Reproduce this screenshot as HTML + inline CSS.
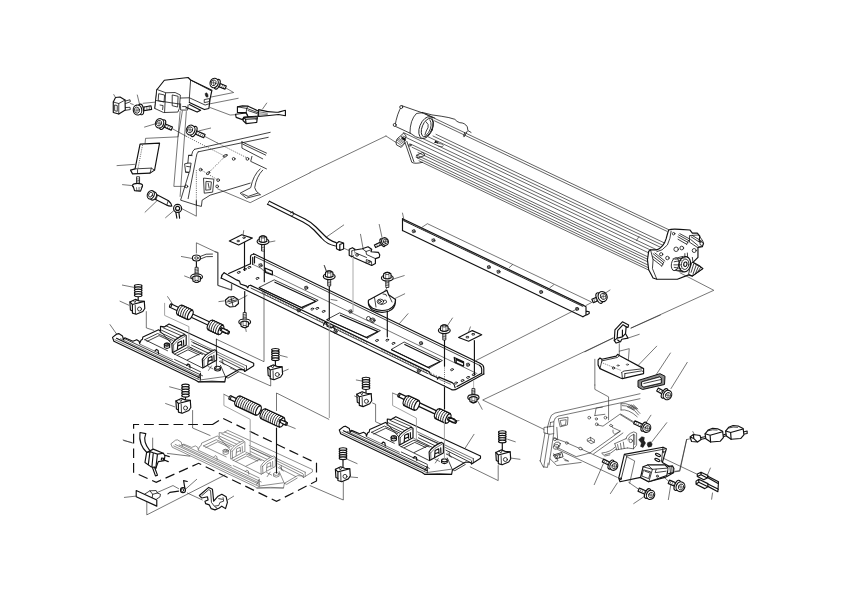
<!DOCTYPE html>
<html><head><meta charset="utf-8"><title>Exploded parts diagram</title>
<style>
html,body{margin:0;padding:0;background:#fff;font-family:"Liberation Sans",sans-serif;}
svg{display:block}
.o{fill:none;stroke:#111;stroke-width:0.8;stroke-linecap:round;stroke-linejoin:round}
.f{fill:#fff;stroke:#111;stroke-width:0.8;stroke-linecap:round;stroke-linejoin:round}
.r{fill:none;stroke:#222;stroke-width:0.7;stroke-linecap:round}
.t{fill:none;stroke:#222;stroke-width:0.62;stroke-linecap:round;stroke-linejoin:round}
.k{fill:none;stroke:#111;stroke-width:1.15;stroke-linecap:round;stroke-linejoin:round}
.kf{fill:#fff;stroke:#111;stroke-width:1.15;stroke-linecap:round;stroke-linejoin:round}
.d{fill:none;stroke:#222;stroke-width:0.7;stroke-dasharray:1 1.2}
.D{fill:none;stroke:#111;stroke-width:1.2;stroke-dasharray:9.7 5}
.lt *{stroke:#4a4a4a !important;stroke-width:0.62 !important}
.b{fill:#222;stroke:#111;stroke-width:0.5}
.g{fill:#999;stroke:#111;stroke-width:0.8}
</style></head><body>
<svg width="842" height="595" viewBox="0 0 842 595">
<rect width="842" height="595" fill="#fff"/>
<!-- p01.py -->
<path class="t" d="M 182.35,111.05 L 178.1,136.83 L 145.56,138.34 L 145.06,143.59"/>
<path class="t" d="M 180.1,111.55 L 173.84,186.4 L 184.61,186.4"/>
<path class="t" d="M 186.36,111.55 L 180.1,196.41"/>
<path class="kf" d="M 113.27,102.04 L 115.52,97.53 L 120.03,97.03 L 125.03,100.04 L 125.28,110.05 L 118.77,114.06 L 113.27,112.55 Z"/>
<path class="o" d="M 113.27,102.04 L 118.77,103.54 L 125.03,100.04 M 118.77,103.54 L 118.77,114.06 M 115.02,105.04 L 117.27,105.54 L 117.27,111.3 L 115.02,110.8 Z"/>
<path class="o" d="M 125.28,101.04 L 130.04,99.79 L 130.29,101.79 L 125.53,103.54 M 125.53,107.55 L 130.04,107.3 L 130.29,109.55 L 125.53,110.3"/>
<path class="t" d="M 113.77,94.53 L 115.52,97.53"/>
<path class="t" d="M 130.54,103.54 L 133.29,104.54 M 143.05,103.29 L 156.32,102.04"/>
<path class="kf" d="M142.3,111.02 L151.64,109.32 L150.99,105.77 L141.66,107.47 Z"/>
<path class="o" style="stroke-width:0.55" d="M144.64,110.59 L144.48,106.96 M146.97,110.17 L146.82,106.53 M149.3,109.74 L149.15,106.11 "/>
<ellipse class="kf" cx="140.99" cy="109.42" rx="2.5" ry="5.41" transform="rotate(-10.3 140.99 109.42)"/>
<ellipse class="kf" cx="137.55" cy="110.05" rx="4.26" ry="5.01" transform="rotate(-10.3 137.55 110.05)"/>
<ellipse class="o" cx="136.96" cy="110.16" rx="2.5" ry="3.1" transform="rotate(-10.3 136.96 110.16)"/>
<path class="t" d="M135.45,110.16 L138.46,110.16 M136.96,108.41 L136.96,111.91"/>
<path class="t" d="M 137.3,95.03 L 139.55,104.29"/>
<path class="kf" d="M 155.07,108.55 L 157.07,89.52 L 164.33,80.26 L 188.11,77.51 L 190.61,80.01 L 211.89,90.28 L 210.14,98.54 L 208.89,108.55 L 204.38,109.55 L 189.36,102.54"/>
<path class="f" d="M 157.07,89.52 L 165.83,92.78 L 175.09,92.53 L 180.35,95.03 L 179.35,108.55 L 177.85,112.05 L 163.58,112.55 L 155.07,108.55 Z"/>
<path class="o" d="M 190.61,80.01 L 189.36,97.78 L 189.36,102.54 M 180.35,98.04 L 189.36,97.78 L 205.13,105.04 L 209.14,103.79"/>
<path class="o" d="M 159.07,93.78 L 164.58,95.03 L 164.08,102.04 L 158.57,100.79 Z M 172.59,95.03 L 178.1,96.28 L 177.6,107.05 L 172.59,105.79 Z M 156.07,100.54 L 179.6,104.04 M 165.58,93.03 L 164.58,112.05 M 160.08,105.04 L 163.08,105.54 L 162.58,109.55"/>
<path class="o" d="M 180.6,103.79 L 180.6,110.05 L 187.61,110.05 L 188.11,105.04 M 182.6,106.55 L 186.11,106.55 L 186.11,108.55"/>
<path class="k" d="M 189.36,104.54 L 200.63,110.3 L 197.12,112.05 L 186.61,107.55"/>
<path class="o" d="M 191.61,80.51 L 211.64,91.03"/>
<ellipse class="b" cx="206.63" cy="95.03" rx="1.25" ry="2.25" transform="rotate(-20 206.63 95.03)"/>
<path class="o" d="M 204.63,99.54 L 209.64,98.54 L 209.39,101.54 L 204.63,102.54 Z"/>
<path class="kf" d="M217.5,86.17 L225.03,89.12 L226.28,85.93 L218.75,82.98 Z"/>
<path class="o" style="stroke-width:0.55" d="M219.39,86.91 L221.1,83.9 M221.27,87.64 L222.98,84.64 M223.15,88.38 L224.86,85.37 "/>
<ellipse class="kf" cx="217.24" cy="84.23" rx="2.38" ry="5.14" transform="rotate(21.37 217.24 84.23)"/>
<ellipse class="kf" cx="214.14" cy="83.02" rx="4.04" ry="4.76" transform="rotate(21.37 214.14 83.02)"/>
<ellipse class="o" cx="213.61" cy="82.81" rx="2.38" ry="2.95" transform="rotate(21.37 213.61 82.81)"/>
<path class="t" d="M212.18,82.81 L215.04,82.81 M213.61,81.14 L213.61,84.47"/>
<path class="t" d="M 225.91,88.02 L 233.67,92.53 L 211.14,97.03"/>
<path class="t" d="M 238.17,98.29 L 210.14,103.79"/>
<path class="t" d="M 210.14,107.55 L 230.16,115.06 L 237.17,114.56"/>
<path class="kf" d="M 258.62,109.68 Q 269.84,112.67 278.57,112.17 L 285.42,110.3 L 285.42,115.79 L 278.57,114.54 Q 269.84,115.54 258.62,116.41 Z"/>
<path class="t" d="M 259.86,111.92 L 267.34,113.17 M 259.86,113.92 L 267.34,114.41"/>
<path class="kf" d="M 237.42,106.81 L 242.41,105.94 L 248.02,106.18 L 258.62,111.17 L 257.99,116.16 L 248.02,116.78 L 246.15,112.67 L 237.42,112.42 Z"/>
<path class="o" d="M 237.42,106.81 L 246.77,108.43 L 248.02,106.18 M 246.77,108.43 L 246.15,112.67 M 246.77,108.43 L 257.99,112.67 M 248.02,110.55 L 257.37,113.67"/>
<path class="kf" d="M 235.55,114.29 L 246.15,113.04 L 248.02,116.78 L 243.65,117.41 L 242.41,119.65 L 236.17,117.41 Z"/>
<path class="kf" d="M 243.65,117.41 L 257.37,116.78 L 256.75,122.39 L 246.15,123.64 L 243.03,120.52 Z M 243.65,117.41 L 245.52,119.28 L 257.37,118.65 M 245.52,119.28 L 246.15,123.64"/>
<path class="t" d="M 266.72,103.07 L 262.61,108.93"/>
<path class="kf" d="M162.83,126.58 L171.17,130.15 L172.51,127 L164.18,123.43 Z"/>
<path class="o" style="stroke-width:0.55" d="M164.92,127.47 L166.73,124.52 M167,128.36 L168.81,125.41 M169.08,129.25 L170.89,126.3 "/>
<ellipse class="kf" cx="162.63" cy="124.63" rx="2.38" ry="5.14" transform="rotate(23.2 162.63 124.63)"/>
<ellipse class="kf" cx="159.57" cy="123.32" rx="4.04" ry="4.76" transform="rotate(23.2 159.57 123.32)"/>
<ellipse class="o" cx="159.05" cy="123.09" rx="2.38" ry="2.95" transform="rotate(23.2 159.05 123.09)"/>
<path class="t" d="M157.62,123.09 L160.48,123.09 M159.05,121.43 L159.05,124.76"/>
<path class="t" d="M 144.56,127.07 L 155.32,123.82"/>
<path class="t" d="M 172.59,128.82 L 186.36,136.33"/>
<path class="d" d="M 186.36,136.33 L 225.16,156.36"/>
<path class="kf" d="M194.02,133.53 L203.66,137.73 L205.1,134.43 L195.46,130.23 Z"/>
<path class="o" style="stroke-width:0.55" d="M195.95,134.37 L197.85,131.27 M197.88,135.21 L199.78,132.11 M199.8,136.05 L201.7,132.95 M201.73,136.89 L203.63,133.79 "/>
<ellipse class="kf" cx="193.83" cy="131.48" rx="2.5" ry="5.41" transform="rotate(23.57 193.83 131.48)"/>
<ellipse class="kf" cx="190.61" cy="130.08" rx="4.26" ry="5.01" transform="rotate(23.57 190.61 130.08)"/>
<ellipse class="o" cx="190.06" cy="129.83" rx="2.5" ry="3.1" transform="rotate(23.57 190.06 129.83)"/>
<path class="t" d="M188.56,129.83 L191.56,129.83 M190.06,128.08 L190.06,131.59"/>
<path class="t" d="M 210.64,128.07 L 199.12,130.83"/>
<path class="t" d="M 204.63,136.33 L 217.65,143.09"/>
<path class="d" d="M 217.65,143.09 L 246.43,157.61"/>
<path class="kf" d="M 140.05,144.09 L 159.57,143.09 L 154.57,170.13 L 150.06,173.13 L 132.54,173.88 L 130.54,170.13 L 135.04,168.87 Z"/>
<path class="o" d="M 135.04,168.87 L 151.31,168.12 L 154.57,170.13 M 151.31,168.12 L 150.06,173.13 M 137.55,169.62 L 137.55,173.13"/>
<path class="d" d="M 142.55,145.09 L 138.05,168.12"/>
<path class="t" d="M 117.02,165.62 L 134.54,164.37"/>
<path class="f" d="M 136.55,177.13 L 136.55,183.89 L 139.55,183.89 L 139.55,177.13 Z"/>
<path class="t" d="M 136.55,178.64 L 139.55,179.14 M 136.55,180.14 L 139.55,180.64 M 136.55,181.64 L 139.55,182.14"/>
<ellipse class="kf" cx="137.55" cy="185.64" rx="5.01" ry="2.25" transform="rotate(0 137.55 185.64)"/>
<path class="kf" d="M 133.29,186.65 L 134.54,190.65 L 140.55,191.15 L 142.05,187.15"/>
<path class="t" d="M 136.55,187.65 L 136.8,190.9 M 139.05,187.65 L 139.05,191.15"/>
<path class="t" d="M 122.53,184.64 L 132.54,185.64"/>
<path class="kf" d="M 154.6,193.6 L 168.5,200.8 Q 171.5,203.5 171.8,206 Q 169.5,206.6 166.5,205 L 152.6,198"/>
<path class="o" d="M 157.5,195.3 L 156,199.5 M 168.2,200.9 L 166.8,205"/>
<ellipse class="kf" cx="153.2" cy="196" rx="3.1" ry="4.3" transform="rotate(27 153.2 196)"/>
<ellipse class="kf" cx="150.8" cy="194.8" rx="3.3" ry="4.4" transform="rotate(27 150.8 194.8)"/>
<ellipse class="o" cx="150.6" cy="194.7" rx="1.8" ry="2.6" transform="rotate(27 150.6 194.7)"/>
<path class="t" d="M 145.06,212.18 L 156.57,201.16"/>
<ellipse class="kf" cx="177.6" cy="208.42" rx="4.01" ry="4.01" transform="rotate(0 177.6 208.42)"/>
<ellipse class="k" cx="177.6" cy="208.42" rx="2" ry="2" transform="rotate(0 177.6 208.42)"/>
<path class="k" d="M 175.84,212.18 L 176.85,218.19 M 178.85,212.18 L 179.6,218.19"/>
<path class="t" d="M 165.58,217.68 L 174.34,210.18"/>
<path class="t" d="M 180.85,208.17 L 196.37,216.18 L 196.37,200.66"/>
<path class="d" d="M 196.37,170.13 L 196.37,200.66"/>
<path class="o" d="M 194.37,149.35 L 270.21,132.33 M 198.12,151.85 L 268.21,137.33"/>
<path class="o" d="M 194.37,149.35 Q 192.37,150.35 191.61,155.11 L 188.61,155.36 L 187.86,163.12 L 184.61,163.87 L 185.61,172.13 L 189.11,172.63 L 180.6,200.16 L 196.37,205.17 L 196.37,200.66"/>
<path class="o" d="M 198.12,151.85 Q 196.62,153.1 196.12,157.61 L 188.11,198.66 M 188.61,155.36 L 192.12,155.61 M 185.61,172.13 L 189.61,172.13 L 191.11,163.12 L 187.86,163.12 M 186.61,166.37 L 190.11,166.87"/>
<path class="o" d="M 241.93,141.84 L 266.46,153.1 M 242.68,144.09 L 265.71,155.11 M 241.93,141.84 L 241.93,148.1 L 262.7,158.86 M 251.94,156.36 L 250.69,161.36 L 266.46,168.87"/>
<path class="o" d="M 260.2,168.87 Q 253.19,175.13 250.69,187.65 L 240.18,193.15 L 246.43,198.16 L 260.2,194.66 M 262.7,170.13 Q 256.45,176.38 254.69,187.65 Q 255.19,191.4 260.2,194.66 M 242.68,193.9 L 248.19,196.41 L 257.7,193.15"/>
<path class="o" d="M 196.37,205.17 L 201.38,206.42 L 202.13,200.16 L 210.14,195.16 L 250.19,183.14"/>
<path class="t" d="M 217.65,188.9 L 250.19,202.67 L 310.26,172.63"/>
<ellipse class="o" cx="200.63" cy="169.62" rx="1.38" ry="1.38" transform="rotate(0 200.63 169.62)"/>
<ellipse class="o" cx="233.67" cy="158.86" rx="1.38" ry="1.38" transform="rotate(0 233.67 158.86)"/>
<ellipse class="o" cx="247.43" cy="158.86" rx="1.38" ry="1.38" transform="rotate(0 247.43 158.86)"/>
<ellipse class="o" cx="218.15" cy="180.14" rx="1.38" ry="1.38" transform="rotate(0 218.15 180.14)"/>
<ellipse class="o" cx="217.15" cy="186.4" rx="1.38" ry="1.38" transform="rotate(0 217.15 186.4)"/>
<ellipse class="o" cx="186.36" cy="186.4" rx="1.38" ry="1.38" transform="rotate(0 186.36 186.4)"/>
<ellipse class="o" cx="225.16" cy="155.86" rx="2.25" ry="1" transform="rotate(-25 225.16 155.86)"/>
<ellipse class="o" cx="208.14" cy="173.13" rx="2" ry="1" transform="rotate(-35 208.14 173.13)"/>
<path class="d" d="M 225.16,156.36 L 208.14,173.13 M 200.63,169.62 L 218.15,180.14"/>
<path class="o" d="M 203.88,178.14 L 213.89,179.14 L 212.64,192.15 L 204.63,193.15 Z M 206.38,181.39 L 211.39,181.89 L 210.64,189.65 L 206.13,190.15 Z M 208.14,183.14 L 209.14,188.15"/>
<!-- p02.py -->
<path class="r" d="M 432,117.12 L 668.5,229.58"/>
<path class="r" d="M 434.5,120.81 L 667,231.36"/>
<path class="r" d="M 436,134.32 L 665.5,243.45"/>
<path class="r" d="M 433,136 L 663.5,245.6"/>
<path class="r" d="M 428,136.72 L 660.5,247.27"/>
<path class="r" d="M 421,137.69 L 657,249.91"/>
<path class="r" d="M 404,132.81 L 651,250.26"/>
<path class="r" d="M 403,136.03 L 650,253.48"/>
<path class="r" d="M 411,144.24 L 649,257.4"/>
<path class="r" d="M 412,147.21 L 648.5,259.67"/>
<path class="r" d="M 418,152.56 L 648,261.93"/>
<path class="r" d="M 417,155.19 L 648,265.03"/>
<path class="r" d="M 416,157.21 L 648,267.53"/>
<path class="r" d="M 419,160.84 L 648.5,269.97"/>
<path class="o" d="M 401.83,105.72 L 422.41,112.83 M 394.98,126.17 L 410.56,133.4"/>
<path class="o" d="M 401.83,105.72 Q 396.85,113.7 394.98,126.17"/>
<ellipse class="f" cx="401.21" cy="107.09" rx="1.5" ry="1.5" transform="rotate(0 401.21 107.09)"/>
<ellipse class="f" cx="394.73" cy="124.93" rx="1.5" ry="1.5" transform="rotate(0 394.73 124.93)"/>
<path class="o" d="M 416.17,113.7 Q 409.94,119.94 409.94,133.03 M 422.41,112.83 Q 416.17,113.08 416.17,113.7"/>
<path class="o" d="M 410.56,133.4 Q 414.93,137.39 421.16,138.64"/>
<ellipse class="f" cx="426.15" cy="127.67" rx="6.48" ry="11.47" transform="rotate(22 426.15 127.67)"/>
<ellipse class="o" cx="427.14" cy="127.67" rx="4.99" ry="9.73" transform="rotate(22 427.14 127.67)"/>
<path class="o" d="M 426.15,121.81 Q 429.26,124.3 428.02,127.67 Q 426.15,130.54 424.9,134.9 M 429.89,119.94 Q 433,124.93 428.64,132.41 L 424.9,136.77"/>
<path class="o" d="M 422.41,112.46 Q 432.38,115.57 441.11,116.2 Q 449.84,117.44 454.83,119.31 Q 456.7,121.81 459.81,122.68 Q 464.8,122.68 467.29,126.8 L 467.92,130.54 L 471.03,132.41 M 467.29,131.16 L 464.18,136.77 M 464.8,132.41 L 463.55,136.15"/>
<path class="o" d="M 422.41,112.83 L 432.38,117.44 M 424.9,113.7 L 434.88,118.07"/>
<path class="k" d="M 435.5,141.13 L 437.37,143 M 434.88,142.38 L 437.99,142.13"/>
<path class="t" d="M 437.37,143 L 442.36,144.25 Q 444.23,145.5 442.36,146.75 L 438.62,146.12"/>
<path class="o" d="M 403.7,133.03 L 397.47,138.64 Q 394.98,141.76 396.47,144.88 L 401.21,147.37 L 404.95,143 M 404.33,140.51 L 411.81,162.33 Q 414.93,164.2 422.41,162.33 M 406.82,141.38 L 413.93,161.71 M 403.7,133.03 L 406.2,136.15 L 404.33,140.51"/>
<path class="t" d="M 396.85,139.89 L 402.46,144.25 M 397.47,138.64 L 403.7,143.38 M 398.72,138.02 L 404.33,142.38 M 396.22,141.76 L 401.83,145.87"/>
<path class="o" d="M 416.8,155.1 L 422.41,152.61 Q 424.9,153.35 424.65,155.47 L 418.04,157.97 Z"/>
<ellipse class="o" cx="409.94" cy="145.12" rx="1.12" ry="1.12" transform="rotate(0 409.94 145.12)"/>
<path class="k" d="M 401.21,136.77 L 404.95,138.64 M 401.83,138.64 L 405.57,140.14"/>
<path class="t" d="M 310,172.5 L 386,136"/>
<path class="t" d="M 386,136 L 396,142.5"/>
<path class="kf" d="M 668.65,229.95 Q 671.15,228.7 679.88,229.33 L 689.85,229.95 L 692.34,233.07 L 697.33,233.07 L 699.83,236.18 L 699.2,241.17 L 703.57,243.04 L 702.32,246.78 L 697.96,247.41 L 697.96,257.38 L 692.97,262.37 L 699.83,266.11 L 702.94,268.6 L 692.34,276.08 L 688.6,274.84 L 677.38,279.2 L 656.81,279.2 L 653.07,277.96 L 648.7,269.85 L 647.46,259.88 L 648.7,251.15 L 650.57,249.9 L 656.81,249.9 Q 663.67,247.41 666.16,238.68 Q 667.41,233.69 668.65,229.95 Z"/>
<path class="o" d="M 671.15,231.2 Q 670.52,238.68 667.41,244.91 Q 662.42,251.15 656.81,251.77 M 650.57,249.9 L 653.07,259.88 L 652.44,268.6 L 656.81,279.2"/>
<path class="o" d="M 653.07,253.64 L 663.67,262.37 M 652.44,256.13 L 663.04,264.24 M 653.07,259.25 L 661.8,266.11 M 663.67,262.37 L 661.8,266.11 M 654.94,253.02 L 664.91,261.12"/>
<ellipse class="o" cx="673.64" cy="233.69" rx="1.25" ry="1.25" transform="rotate(0 673.64 233.69)"/>
<ellipse class="o" cx="661.17" cy="254.26" rx="1.62" ry="1.62" transform="rotate(0 661.17 254.26)"/>
<ellipse class="o" cx="676.13" cy="249.28" rx="2.24" ry="2.24" transform="rotate(0 676.13 249.28)"/>
<ellipse class="o" cx="681.75" cy="248.03" rx="1.87" ry="1.87" transform="rotate(0 681.75 248.03)"/>
<ellipse class="o" cx="694.21" cy="250.52" rx="2" ry="2" transform="rotate(0 694.21 250.52)"/>
<ellipse class="o" cx="667.41" cy="258" rx="1.75" ry="1.75" transform="rotate(0 667.41 258)"/>
<path class="o" d="M 678.63,234.94 L 688.6,240.55 M 678,236.81 L 687.98,242.42 M 678,239.3 L 686.73,244.29 M 688.6,240.55 L 686.73,244.29 M 679.88,233.69 L 689.6,238.93"/>
<path class="o" d="M 689.85,235.56 L 698.58,234.94 L 702.94,241.17 L 702.32,246.16 L 697.33,247.41 L 689.85,242.42 Z M 691.1,236.81 L 699.83,242.42 M 692.34,235.56 L 701.7,241.17 M 690.47,239.3 L 697.96,245.54"/>
<ellipse class="f" cx="701.7" cy="243.67" rx="1.75" ry="1.75" transform="rotate(0 701.7 243.67)"/>
<path class="o" d="M 673.02,258.88 L 682.99,256.38 M 672.39,269.6 L 682.37,272.09"/>
<ellipse class="f" cx="675.14" cy="264.24" rx="3.74" ry="6.48" transform="rotate(10 675.14 264.24)"/>
<ellipse class="kf" cx="684.86" cy="264.24" rx="5.74" ry="7.73" transform="rotate(10 684.86 264.24)"/>
<ellipse class="o" cx="685.11" cy="264.24" rx="3.74" ry="5.24" transform="rotate(10 685.11 264.24)"/>
<ellipse class="k" cx="685.36" cy="264.24" rx="1.62" ry="2.24" transform="rotate(10 685.36 264.24)"/>
<path class="o" d="M 674.89,259.25 L 683.62,258 M 674.26,261.75 L 681.12,260.5 M 673.89,264.86 L 680.5,264.86 M 674.26,267.36 L 681.12,268.6 M 675.51,269.85 L 682.99,271.1"/>
<path class="o" d="M 692.34,262.37 L 699.83,266.73 L 702.94,268.6 L 692.34,276.08 L 688.6,274.21 L 689.85,268.6 Z M 693.59,264.24 L 691.1,272.34 M 696.08,265.49 L 692.97,274.21 M 698.33,266.73 L 695.46,273.59 M 700.45,267.61 L 697.96,271.72"/>
<path class="o" d="M 684.86,253.64 L 684.86,258 M 687.36,253.02 L 687.61,257.38 M 692.34,257.38 L 692.97,262.37"/>
<path class="t" d="M 636.5,240.5 L 639,236.5"/>
<!-- p03.py -->
<path class="k" d="M 402.5,218.7 L 582.9,304.9"/>
<path class="o" d="M 402.5,220.2 L 582.9,306.4"/>
<path class="k" d="M 402.5,230.6 L 582.9,316.7"/>
<path class="k" d="M 402.5,218.7 L 402.5,230.6"/>
<path class="t" style="stroke-width:0.7" d="M404,219.62 L405.2,221.62 M406.1,220.62 L407.3,222.62 M408.2,221.62 L409.4,223.62 M410.3,222.63 L411.5,224.63 M412.4,223.63 L413.6,225.63 M414.5,224.64 L415.7,226.64 M416.6,225.64 L417.8,227.64 M418.7,226.64 L419.9,228.64 M420.8,227.65 L422,229.65 M422.9,228.65 L424.1,230.65 M425,229.66 L426.2,231.66 M427.1,230.66 L428.3,232.66 M429.2,231.66 L430.4,233.66 M431.3,232.67 L432.5,234.67 M433.4,233.67 L434.6,235.67 M435.5,234.67 L436.7,236.67 M437.6,235.68 L438.8,237.68 M439.7,236.68 L440.9,238.68 M441.8,237.69 L443,239.69 M443.9,238.69 L445.1,240.69 M446,239.69 L447.2,241.69 M448.1,240.7 L449.3,242.7 M450.2,241.7 L451.4,243.7 M452.3,242.7 L453.5,244.7 M454.4,243.71 L455.6,245.71 M456.5,244.71 L457.7,246.71 M458.6,245.72 L459.8,247.72 M460.7,246.72 L461.9,248.72 M462.8,247.72 L464,249.72 M464.9,248.73 L466.1,250.73 M467,249.73 L468.2,251.73 M469.1,250.73 L470.3,252.73 M471.2,251.74 L472.4,253.74 M473.3,252.74 L474.5,254.74 M475.4,253.75 L476.6,255.75 M477.5,254.75 L478.7,256.75 M479.6,255.75 L480.8,257.75 M481.7,256.76 L482.9,258.76 M483.8,257.76 L485,259.76 M485.9,258.77 L487.1,260.77 M488,259.77 L489.2,261.77 M490.1,260.77 L491.3,262.77 M492.2,261.78 L493.4,263.78 M494.3,262.78 L495.5,264.78 M496.4,263.78 L497.6,265.78 M498.5,264.79 L499.7,266.79 M500.6,265.79 L501.8,267.79 M502.7,266.8 L503.9,268.8 M504.8,267.8 L506,269.8 M506.9,268.8 L508.1,270.8 M509,269.81 L510.2,271.81 M511.1,270.81 L512.3,272.81 M513.2,271.81 L514.4,273.81 M515.3,272.82 L516.5,274.82 M517.4,273.82 L518.6,275.82 M519.5,274.83 L520.7,276.83 M521.6,275.83 L522.8,277.83 M523.7,276.83 L524.9,278.83 M525.8,277.84 L527,279.84 M527.9,278.84 L529.1,280.84 M530,279.85 L531.2,281.85 M532.1,280.85 L533.3,282.85 M534.2,281.85 L535.4,283.85 M536.3,282.86 L537.5,284.86 M538.4,283.86 L539.6,285.86 M540.5,284.86 L541.7,286.86 M542.6,285.87 L543.8,287.87 M544.7,286.87 L545.9,288.87 M546.8,287.88 L548,289.88 M548.9,288.88 L550.1,290.88 M551,289.88 L552.2,291.88 M553.1,290.89 L554.3,292.89 M555.2,291.89 L556.4,293.89 M557.3,292.89 L558.5,294.89 M559.4,293.9 L560.6,295.9 M561.5,294.9 L562.7,296.9 M563.6,295.91 L564.8,297.91 M565.7,296.91 L566.9,298.91 M567.8,297.91 L569,299.91 M569.9,298.92 L571.1,300.92 M572,299.92 L573.2,301.92 M574.1,300.92 L575.3,302.92 M576.2,301.93 L577.4,303.93 M578.3,302.93 L579.5,304.93 M580.4,303.94 L581.6,305.94 "/>
<path class="t" d="M 421.8,227.4 L 427.4,223.7 L 591,301.8"/>
<path class="t" d="M 512.5,264.7 L 509.3,267.5 M 553.6,284.9 L 549.9,287.7"/>
<path class="k" d="M 582.9,304.9 L 586,306.8 L 586,314.9 L 582.9,316.7 M 586,311.1 L 589.2,311.7 L 589.2,313.6 L 586.7,314.9"/>
<path class="t" d="M 402.5,213.1 L 403.7,218.7"/>
<circle class="o" cx="413.7" cy="231.2" r="1.5"/>
<path class="t" d="M412.2,230.3 L415.2,232.1 M414.45,229.7 L412.95,232.7"/>
<circle class="o" cx="433.4" cy="240.3" r="1.5"/>
<path class="t" d="M431.9,239.4 L434.9,241.2 M434.15,238.8 L432.65,241.8"/>
<circle class="o" cx="488.8" cy="267.1" r="1.5"/>
<path class="t" d="M487.3,266.2 L490.3,268 M489.55,265.6 L488.05,268.6"/>
<circle class="o" cx="498.5" cy="271.7" r="1.5"/>
<path class="t" d="M497,270.8 L500,272.6 M499.25,270.2 L497.75,273.2"/>
<circle class="o" cx="541.1" cy="292" r="1.5"/>
<path class="t" d="M539.6,291.1 L542.6,292.9 M541.85,290.5 L540.35,293.5"/>
<circle class="o" cx="577.1" cy="308.9" r="1.5"/>
<path class="t" d="M575.6,308 L578.6,309.8 M577.85,307.4 L576.35,310.4"/>
<path class="t" d="M 577.1,308.9 L 538.7,328.6"/>
<path class="t" d="M 586,305.5 L 592.3,302.1"/>
<path class="kf" d="M597.56,296.77 L591.85,299.29 L593.35,302.71 L599.07,300.2 Z"/>
<path class="o" style="stroke-width:0.55" d="M595.66,297.61 L596.71,301.24 M593.75,298.45 L594.8,302.08 "/>
<ellipse class="kf" cx="599.27" cy="298.07" rx="2.6" ry="5.62" transform="rotate(156.25 599.27 298.07)"/>
<ellipse class="kf" cx="602.6" cy="296.6" rx="4.42" ry="5.2" transform="rotate(156.25 602.6 296.6)"/>
<ellipse class="o" cx="603.17" cy="296.35" rx="2.6" ry="3.22" transform="rotate(156.25 603.17 296.35)"/>
<path class="t" d="M601.61,296.35 L604.73,296.35 M603.17,294.53 L603.17,298.17"/>
<path class="t" d="M 610,290 L 604,294"/>
<path class="k" d="M 253.5,253.71 L 480.5,363.58"/>
<path class="o" d="M 254.5,256.4 L 479.5,365.3"/>
<path class="t" d="M 262,269.53 L 477,373.59"/>
<path class="k" d="M 250.5,263.7 L 250.5,256.6 Q 250.7,254.3 253,254.2 L 253.5,254.3 M 252.7,257.2 L 252.7,264.3 M 254.5,256.5 L 254.5,263"/>
<path class="k" d="M 480.5,363.6 Q 483.6,365 483.8,368 L 483.8,374 M 479.5,365.3 Q 481.6,366.6 481.7,369 L 481.7,373.2"/>
<path class="k" d="M 250.5,263.7 L 228.7,273.6"/>
<path class="k" d="M 483.8,374 L 457.2,388.7 Q 454.5,390.6 451.5,389.6 M 481.7,373.2 L 457,386.6"/>
<path class="t" d="M 252.7,264.3 L 262,268.8"/>
<path class="k" d="M 224.1,272.8 L 236.6,279.9 L 239.5,281.1 L 240.4,284 L 246.6,286.1 L 247.8,287.8 L 248.7,285.7 L 250.7,285.3"/>
<path class="k" d="M 250.7,285.36 L 426.9,370.64"/>
<path class="k" d="M 224.1,272.8 Q 221.5,274.5 221.2,278.2"/>
<path class="k" d="M 221.2,277.98 L 451.5,389.45"/>
<path class="o" d="M 251,288.1 L 428,373.77"/>
<path class="k" d="M 426.9,370.6 L 429.5,372.1 L 430.3,374.6 L 437,377.6 L 437.9,378.8 M 437.4,379.2 L 439.1,377.1 L 452.1,382.6 Q 454.7,384.2 455.1,387.6"/>
<path class="t" style="stroke-width:0.5" d="M262,291.03 L262.8,293.23 M264.6,292.29 L265.4,294.49 M267.2,293.54 L268,295.74 M269.8,294.8 L270.6,297 M272.4,296.06 L273.2,298.26 M275,297.32 L275.8,299.52 M277.6,298.58 L278.4,300.78 M280.2,299.84 L281,302.04 M282.8,301.1 L283.6,303.3 M285.4,302.35 L286.2,304.55 M288,303.61 L288.8,305.81 M290.6,304.87 L291.4,307.07 M293.2,306.13 L294,308.33 M295.8,307.39 L296.6,309.59 M298.4,308.65 L299.2,310.85 M316.6,317.45 L317.4,319.65 M319.2,318.71 L320,320.91 M321.8,319.97 L322.6,322.17 M324.4,321.23 L325.2,323.43 M327,322.49 L327.8,324.69 M329.6,323.75 L330.4,325.95 M332.2,325 L333,327.2 M334.8,326.26 L335.6,328.46 M337.4,327.52 L338.2,329.72 M340,328.78 L340.8,330.98 M342.6,330.04 L343.4,332.24 M345.2,331.3 L346,333.5 M347.8,332.56 L348.6,334.76 M350.4,333.81 L351.2,336.01 M353,335.07 L353.8,337.27 M355.6,336.33 L356.4,338.53 M358.2,337.59 L359,339.79 M360.8,338.85 L361.6,341.05 M363.4,340.11 L364.2,342.31 M366,341.36 L366.8,343.56 M381.6,348.91 L382.4,351.11 M384.2,350.17 L385,352.37 M386.8,351.43 L387.6,353.63 M389.4,352.69 L390.2,354.89 M392,353.95 L392.8,356.15 M394.6,355.21 L395.4,357.41 M397.2,356.46 L398,358.66 M399.8,357.72 L400.6,359.92 M402.4,358.98 L403.2,361.18 M405,360.24 L405.8,362.44 M407.6,361.5 L408.4,363.7 M410.2,362.76 L411,364.96 M412.8,364.02 L413.6,366.22 M415.4,365.27 L416.2,367.47 M418,366.53 L418.8,368.73 M420.6,367.79 L421.4,369.99 M423.2,369.05 L424,371.25 M425.8,370.31 L426.6,372.51 M428.4,371.57 L429.2,373.77 M431,372.82 L431.8,375.02 M433.6,374.08 L434.4,376.28 M436.2,375.34 L437,377.54 M438.8,376.6 L439.6,378.8 "/>
<path class="k" d="M 323.5,325.3 L 324.5,322.8 Q 325.8,322 326.5,323 L 327.2,326.3 L 331.2,328 L 333.5,326.5 L 334.8,329.6"/>
<path class="t" d="M 440,379.6 L 450.5,384.2"/>
<path class="o" d="M 274.6,280 L 318.2,300.3 L 302.8,308.2 L 259.3,287.7 Z"/>
<path class="k" d="M 274.9,282.2 L 315.9,301.3 L 301.8,307.4"/>
<path class="k" d="M 259.3,287.7 L 302.8,308.2"/>
<path class="o" d="M 340,313 L 380.4,330.6 L 367.5,338 L 327,319.8 Z"/>
<path class="k" d="M 340.3,315.2 L 378.1,331.6 L 366.5,337.2"/>
<path class="k" d="M 327,319.8 L 367.5,338"/>
<path class="o" d="M 404.5,342.2 L 442.4,360.5 L 429.3,368 L 391.5,349.7 Z"/>
<path class="k" d="M 404.8,344.4 L 440.1,361.5 L 428.3,367.2"/>
<path class="k" d="M 391.5,349.7 L 429.3,368"/>
<path class="k" d="M 264.9,268 L 272.4,271.1 L 272.4,274.9 L 265.5,272.4 Z"/>
<path class="k" d="M 454.2,357.4 L 463.6,361.8 L 463.6,366.1 L 454.9,362.4 Z M 456,359.4 L 456.4,363 M 456,359.4 L 463.6,363"/>
<circle class="o" cx="260.5" cy="265.3" r="1.6"/>
<path class="t" d="M258.9,264.34 L262.1,266.26 M261.3,263.7 L259.7,266.9"/>
<circle class="o" cx="306.2" cy="287.8" r="1.6"/>
<path class="t" d="M304.6,286.84 L307.8,288.76 M307,286.2 L305.4,289.4"/>
<circle class="o" cx="350.5" cy="311.5" r="1.6"/>
<path class="t" d="M348.9,310.54 L352.1,312.46 M351.3,309.9 L349.7,313.1"/>
<circle class="o" cx="421" cy="343.2" r="1.6"/>
<path class="t" d="M419.4,342.24 L422.6,344.16 M421.8,341.6 L420.2,344.8"/>
<circle class="o" cx="468" cy="364.7" r="1.6"/>
<path class="t" d="M466.4,363.74 L469.6,365.66 M468.8,363.1 L467.2,366.3"/>
<circle class="o" cx="418.8" cy="370.8" r="1.6"/>
<path class="t" d="M417.2,369.84 L420.4,371.76 M419.6,369.2 L418,372.4"/>
<circle class="o" cx="298.8" cy="310.3" r="1.6"/>
<path class="t" d="M297.2,309.34 L300.4,311.26 M299.6,308.7 L298,311.9"/>
<circle class="o" cx="335.5" cy="331.5" r="1.6"/>
<path class="t" d="M333.9,330.54 L337.1,332.46 M336.3,329.9 L334.7,333.1"/>
<circle class="o" cx="368.5" cy="318.5" r="2"/><circle class="o" cx="372.8" cy="320.3" r="2.3"/><circle class="o" cx="372.8" cy="320.3" r="1.2"/>
<ellipse class="o" cx="249.3" cy="267.4" rx="1.5" ry="0.9" transform="rotate(-20 249.3 267.4)"/>
<ellipse class="o" cx="238.7" cy="272.4" rx="1.5" ry="0.9" transform="rotate(-20 238.7 272.4)"/>
<ellipse class="o" cx="257.4" cy="278.4" rx="1.5" ry="0.9" transform="rotate(-20 257.4 278.4)"/>
<ellipse class="o" cx="244.9" cy="269.3" rx="1.5" ry="0.9" transform="rotate(-20 244.9 269.3)"/>
<ellipse class="o" cx="312.3" cy="309" rx="1.5" ry="0.9" transform="rotate(-20 312.3 309)"/>
<ellipse class="o" cx="317.2" cy="308.4" rx="1.5" ry="0.9" transform="rotate(-20 317.2 308.4)"/>
<ellipse class="o" cx="323.6" cy="311.4" rx="1.5" ry="0.9" transform="rotate(-20 323.6 311.4)"/>
<ellipse class="o" cx="376.9" cy="340.5" rx="1.5" ry="0.9" transform="rotate(-20 376.9 340.5)"/>
<ellipse class="o" cx="387.3" cy="340.1" rx="1.5" ry="0.9" transform="rotate(-20 387.3 340.1)"/>
<ellipse class="o" cx="393.4" cy="343.4" rx="1.5" ry="0.9" transform="rotate(-20 393.4 343.4)"/>
<ellipse class="o" cx="452" cy="369.7" rx="1.5" ry="0.9" transform="rotate(-20 452 369.7)"/>
<ellipse class="o" cx="462.4" cy="380.6" rx="1.5" ry="0.9" transform="rotate(-20 462.4 380.6)"/>
<ellipse class="o" cx="468" cy="377.4" rx="1.5" ry="0.9" transform="rotate(-20 468 377.4)"/>
<ellipse class="o" cx="473.6" cy="374.6" rx="1.5" ry="0.9" transform="rotate(-20 473.6 374.6)"/>
<ellipse class="o" cx="456" cy="383" rx="1.5" ry="0.9" transform="rotate(-20 456 383)"/>
<path class="t" d="M 215,251.8 L 218.1,252.4 L 218.1,285.5 L 231.8,289.8 L 231.8,285"/>
<path class="t" d="M 408,313.7 L 399.5,323.5"/>
<path class="t" d="M 337,300.5 L 331,299.5"/>
<path class="kf" d="M 229.3,241 L 241.8,234.7 L 252.4,238.1 L 238.7,245 Z"/>
<ellipse class="o" cx="238.1" cy="241" rx="1.2" ry="0.8"/><ellipse class="o" cx="243.9" cy="237.7" rx="1.2" ry="0.8"/>
<path class="t" d="M 243.7,230.6 L 243.1,234.7"/>
<path class="k" d="M 244.5,242.5 L 244.5,270.5"/>
<path class="kf" d="M 458.6,337.5 L 472.3,330.6 L 481.7,334.7 L 468.6,341.2 Z"/>
<rect class="o" x="466.6" y="336.4" width="2" height="1.5"/><rect class="o" x="472.4" y="333.5" width="2" height="1.5"/>
<path class="t" d="M 470.4,326.9 L 468.6,331.8"/>
<path class="k" d="M 474.4,340.6 L 474.4,374.9"/>
<path d="M473.6,380 L473.6,388" style="stroke:#aaa;stroke-width:0.9;fill:none"/>
<path class="k" d="M 264.3,250 L 264.3,281.7"/>
<path class="f" d="M261.5,243.5 L261.5,251 L264.5,251 L264.5,243.5 Z"/>
<path class="t" d="M261.5,245.7 L264.5,246.2 M261.5,247.3 L264.5,247.8 M261.5,248.9 L264.5,249.4 "/>
<ellipse class="kf" cx="263" cy="241.5" rx="5.9" ry="3"/>
<path class="kf" d="M259.1,241.2 L259.4,237.2 Q263,234.6 266.6,237.2 L266.9,241.2 Q263,243.7 259.1,241.2 Z"/>
<ellipse class="o" cx="263" cy="236.9" rx="2.3" ry="1.1"/>
<path class="t" d="M261.4,238.1 L261.3,242.4 M264.6,238.1 L264.7,242.4"/>
<path class="t" d="M 274.9,241 L 268.6,242.2"/>
<path class="k" d="M 329.3,285 L 329.3,320"/>
<path class="f" d="M327.7,278.5 L327.7,286 L330.7,286 L330.7,278.5 Z"/>
<path class="t" d="M327.7,280.7 L330.7,281.2 M327.7,282.3 L330.7,282.8 M327.7,283.9 L330.7,284.4 "/>
<ellipse class="kf" cx="329.2" cy="276.5" rx="5.9" ry="3"/>
<path class="kf" d="M325.3,276.2 L325.6,272.2 Q329.2,269.6 332.8,272.2 L333.1,276.2 Q329.2,278.7 325.3,276.2 Z"/>
<ellipse class="o" cx="329.2" cy="271.9" rx="2.3" ry="1.1"/>
<path class="t" d="M327.6,273.1 L327.5,277.4 M330.8,273.1 L330.9,277.4"/>
<path class="t" d="M 324.3,265.5 L 326.3,271"/>
<path d="M329.3,320 L329.3,418" style="stroke:#999;stroke-width:1;fill:none"/>
<path class="k" d="M 444.5,339 L 444.5,366.2"/>
<path class="f" d="M442.8,332.5 L442.8,340 L445.8,340 L445.8,332.5 Z"/>
<path class="t" d="M442.8,334.7 L445.8,335.2 M442.8,336.3 L445.8,336.8 M442.8,337.9 L445.8,338.4 "/>
<ellipse class="kf" cx="444.3" cy="330.5" rx="5.9" ry="3"/>
<path class="kf" d="M440.4,330.2 L440.7,326.2 Q444.3,323.6 447.9,326.2 L448.2,330.2 Q444.3,332.7 440.4,330.2 Z"/>
<ellipse class="o" cx="444.3" cy="325.9" rx="2.3" ry="1.1"/>
<path class="t" d="M442.7,327.1 L442.6,331.4 M445.9,327.1 L446,331.4"/>
<path class="t" d="M 452.5,318 L 447.5,325.5"/>
<path class="d" d="M 444.5,367.5 L 444.5,387.5"/>
<path class="k" d="M 444.5,387.5 L 444.5,394"/>
<path class="f" d="M385.8,280 L385.8,287.5 L388.8,287.5 L388.8,280 Z"/>
<path class="t" d="M385.8,282.2 L388.8,282.7 M385.8,283.8 L388.8,284.3 M385.8,285.4 L388.8,285.9 "/>
<ellipse class="kf" cx="387.3" cy="278" rx="5.9" ry="3"/>
<path class="kf" d="M383.4,277.7 L383.7,273.7 Q387.3,271.1 390.9,273.7 L391.2,277.7 Q387.3,280.2 383.4,277.7 Z"/>
<ellipse class="o" cx="387.3" cy="273.4" rx="2.3" ry="1.1"/>
<path class="t" d="M385.7,274.6 L385.6,278.9 M388.9,274.6 L389,278.9"/>
<path class="t" d="M 404.2,275.6 L 392.9,279.2"/>
<path class="kf" d="M 368.4,301.8 Q 367.8,306.5 372.6,310.1 Q 380.2,313.8 388.6,311.3 Q 395.3,308.8 395.5,301 L 395.5,299.5"/>
<path class="kf" d="M 386.9,290.2 L 368.4,300.3 Q 367.5,304.5 372.6,308.3 Q 380.2,312 388.6,309.5 Q 395.3,307 395.5,299.5 L 388.6,294.7 Z"/>
<path class="o" d="M 374.5,297.5 L 376,307 M 388.6,294.7 L 392,302 M 383,294 L 386,294.5 L 386.5,296"/>
<ellipse class="o" cx="380.4" cy="301.6" rx="3.2" ry="2.5"/><ellipse class="o" cx="379.8" cy="301.4" rx="1.5" ry="1.1"/>
<path class="o" d="M 383.5,300.5 Q 387,299 386.5,302.5 Q 384,304.5 381,304.5"/>
<path class="t" d="M 404.7,293.8 L 395,298.5"/>
<path class="k" d="M 387.3,311 L 387.3,336.8"/>
<path class="t" d="M 384.5,291.5 L 387,287.8"/>
<path class="k" d="M 269.3,201.2 L 305,219 Q 311,222 316,227 L 324,235 Q 329,240.5 336.2,242.6 M 267.5,204.3 L 303,222 Q 309,225 314,230 L 321.5,238 Q 327,244.5 335.5,246"/>
<path class="o" d="M 269.3,201.2 L 267.5,204.3 M 290.5,213 L 292.8,211.5 L 293.8,214.5 L 291.5,216"/>
<path class="kf" d="M 336.5,243.5 L 339,241.5 L 343.6,243 L 343.6,249 L 339.8,250.5 L 336.5,248.7 Z M 339.8,244.5 L 339.8,250.5 M 339.8,244.5 L 343.6,243"/>
<path class="t" d="M 343.7,225 L 326.2,237.2"/>
<path class="t" d="M 344.5,248.5 L 348.5,250.3"/>
<path class="kf" d="M 349.2,249.3 L 352.4,247.7 L 354.9,249.3 L 354.9,255.5 L 351.8,256.8 L 349.2,255.2 Z"/>
<path class="kf" d="M 354.9,250 L 362.3,248.7 L 368,246.8 L 371.7,249.3 L 371,251.8 L 378.5,252.4 L 379.8,254.9 L 379.2,257.4 L 375.4,258.6 L 375.4,263.6 L 371.7,265.5 L 366.1,263 L 353.6,257.4"/>
<path class="o" d="M 351.8,251 L 351.8,256.8 M 351.8,251 L 354.9,249.5 M 362.3,248.7 L 366,251.5 L 370.5,250 M 366,251.5 L 366.5,254.5 L 375.4,258.6 M 366.1,263 L 366.4,259.5 L 371.5,261.5 L 371.7,265.5 M 355.5,252.8 L 366.5,257.5"/>
<circle class="o" cx="357" cy="255" r="1.3"/><circle class="o" cx="369" cy="261.8" r="1.2"/>
<path class="t" d="M 360.5,234.3 L 363,248"/>
<path d="M353,257.5 L353,312" style="stroke:#aaa;stroke-width:1;fill:none"/>
<path class="kf" d="M381.23,241.75 L374.39,245.03 L375.61,247.57 L382.44,244.28 Z"/>
<path class="o" style="stroke-width:0.55" d="M378.95,242.85 L379.71,245.59 M376.67,243.94 L377.44,246.69 "/>
<ellipse class="kf" cx="382.54" cy="242.68" rx="1.95" ry="4.21" transform="rotate(154.36 382.54 242.68)"/>
<ellipse class="kf" cx="385" cy="241.5" rx="3.31" ry="3.9" transform="rotate(154.36 385 241.5)"/>
<ellipse class="o" cx="385.42" cy="241.3" rx="1.95" ry="2.42" transform="rotate(154.36 385.42 241.3)"/>
<path class="t" d="M384.25,241.3 L386.59,241.3 M385.42,239.93 L385.42,242.66"/>
<path class="t" d="M 379.2,224.4 L 382.3,238.7"/>
<path class="t" d="M 324.3,265.5 L 326.3,271"/>
<!-- p04.py -->
<path class="kf" d="M 112.5,337.4 L 116.8,334 L 118.7,333.6 L 122.5,335.9 L 123.4,339.7 L 124.8,337.8 L 132.9,341.2 L 136.7,339.7 L 139.1,341.2 L 139.6,343.5 L 141,340.2 L 142.4,339.3 L 142.9,336.9 L 158.6,329.8 L 160.5,331.2 L 160.5,326.4 L 164.3,326.9 L 169,324.1 L 253.7,363.3 L 253.7,365.7 L 244.7,371.4 L 243.8,369.9 L 239,369.4 L 237.1,370.4 L 225.7,377.1 L 224.8,381.8 L 198.2,381.8 L 195.3,379.9 L 113.9,341.2 Z"/>
<path class="t" d="M 115,339.72 L 200.5,380.38"/>
<path class="k" d="M 116.5,338.24 L 200.5,378.18"/>
<path class="t" d="M 120.5,338.74 L 200.5,376.78"/>
<path class="o" d="M 123.5,338.16 L 202.5,375.73"/>
<path class="t" d="M 139.5,343.97 L 172.5,359.66"/>
<path class="o" d="M 174.5,359.42 L 200.5,371.78"/>
<path class="o" d="M 200.5,373.3 L 200.5,379.9 M 200.5,373.3 L 198,378.4 M 198.2,381.8 Q 212.5,380.4 224.8,381.8"/>
<path class="o" d="M 173.3,353.5 L 202.5,368"/>
<path class="k" d="M 155,350.9 L 156.5,349.4 L 158.1,350.4 L 158.5,353.4 M 186.5,365.4 L 188,363.9 L 189.7,364.9 L 190.1,367.9"/>
<path class="o" d="M 144.8,339.7 L 157.6,333.5 L 172.8,340.4 M 147,341.4 L 159,335.6 L 171,341.2 M 144.8,339.7 L 167.5,350.7"/>
<path class="t" d="M 190.5,339.2 L 246.5,366 M 191.5,341.6 L 244,367.4"/>
<path class="o" d="M 163,327.7 L 181.6,335.8 M 161.5,330.2 L 179.6,338.8 M 159.9,332.3 L 175.6,339.8 M 166,325.8 L 184.5,334 M 160.5,331.2 L 171.9,344.2"/>
<path class="kf" d="M 171.9,344.2 Q 174.9,338.7 184.3,334.6 L 186.2,335.6 L 186.2,345.1 L 181.9,347.4 L 172.4,352.7 Z"/>
<path class="t" d="M 173.3,345.2 Q 176.4,340.2 184.9,336.3"/>
<path class="k" d="M 177.4,349.2 L 177.9,342.7 L 181.5,341 L 181.8,345.7 M 183.5,340 L 183.7,345.2 M 177.9,346 L 181.7,344.4"/>
<path class="t" d="M 173.5,344.8 L 173.8,351.9"/>
<ellipse class="f" cx="167" cy="344.6" rx="2.6" ry="1.5" transform="rotate(0 167 344.6)"/>
<path class="kf" d="M 164.4,344.6 L 164.4,347.4 Q 167,349.4 169.6,347.4 L 169.6,344.6"/>
<ellipse class="kf" cx="167" cy="344.6" rx="2.6" ry="1.5" transform="rotate(0 167 344.6)"/>
<ellipse class="o" cx="167" cy="344.6" rx="1.2" ry="0.7" transform="rotate(0 167 344.6)"/>
<path class="o" d="M 174.5,354.1 L 187.1,347.6 L 202.5,354.4 M 177.3,355.2 L 188,349.8 L 199,354.9 M 187.4,359.9 L 201,353.2"/>
<path class="t" d="M 187.1,345.9 L 192.5,348.4"/>
<path class="o" d="M 193.1,342.7 L 211.7,350.8 M 191.6,345.2 L 209.7,353.8 M 190,347.3 L 205.7,354.8"/>
<path class="kf" d="M 202.3,359.4 Q 205.3,353.9 214.7,349.8 L 216.6,350.8 L 216.6,360.3 L 212.3,362.6 L 202.8,367.9 Z"/>
<path class="t" d="M 203.7,360.4 Q 206.8,355.4 215.3,351.5"/>
<path class="k" d="M 207.8,364.4 L 208.3,357.9 L 211.9,356.2 L 212.2,360.9 M 213.9,355.2 L 214.1,360.4 M 208.3,361.2 L 212.1,359.6"/>
<path class="t" d="M 203.9,360 L 204.2,367.1"/>
<path class="kf" d="M 214.8,367.7 L 214.8,370 Q 217.6,372 220.4,370 L 220.4,367.7"/>
<ellipse class="kf" cx="217.6" cy="367.7" rx="2.8" ry="1.5" transform="rotate(0 217.6 367.7)"/>
<path class="t" d="M 208,366.4 L 213,368.9 M 208.5,370.4 L 211.5,365.9 M 221,360.4 L 224.5,364.9 M 222.5,359.4 L 223,363.9"/>
<path class="o" d="M 219.1,357.6 L 243.8,369.9 M 219.5,361.4 L 237.1,370.4 M 225.7,377.1 L 228,378.1 L 238.5,371.9 M 220.5,365.4 L 225.5,376.9 M 244.7,371.4 L 244.7,368.4 M 246.5,366 L 246.5,370.2"/>
<path class="t" d="M 200.5,379.9 L 224.5,376.6"/>
<path class="kf" d="M 339.3,430 L 343.6,426.6 L 345.5,426.2 L 349.3,428.5 L 350.2,432.3 L 351.6,430.4 L 359.7,433.8 L 363.5,432.3 L 365.9,433.8 L 366.4,436.1 L 367.8,432.8 L 369.2,431.9 L 369.7,429.5 L 385.4,422.4 L 387.3,423.8 L 387.3,419 L 391.1,419.5 L 395.8,416.7 L 480.5,455.9 L 480.5,458.3 L 471.5,464 L 470.6,462.5 L 465.8,462 L 463.9,463 L 452.5,469.7 L 451.6,474.4 L 425,474.4 L 422.1,472.5 L 340.7,433.8 Z"/>
<path class="t" d="M 341.8,432.32 L 427.3,472.98"/>
<path class="k" d="M 343.3,430.84 L 427.3,470.78"/>
<path class="t" d="M 347.3,431.34 L 427.3,469.38"/>
<path class="o" d="M 350.3,430.76 L 429.3,468.33"/>
<path class="t" d="M 366.3,436.57 L 399.3,452.26"/>
<path class="o" d="M 401.3,452.02 L 427.3,464.38"/>
<path class="o" d="M 427.3,465.9 L 427.3,472.5 M 427.3,465.9 L 424.8,471 M 425,474.4 Q 439.3,473 451.6,474.4"/>
<path class="o" d="M 400.1,446.1 L 429.3,460.6"/>
<path class="k" d="M 381.8,443.5 L 383.3,442 L 384.9,443 L 385.3,446 M 413.3,458 L 414.8,456.5 L 416.5,457.5 L 416.9,460.5"/>
<path class="o" d="M 371.6,432.3 L 384.4,426.1 L 399.6,433 M 373.8,434 L 385.8,428.2 L 397.8,433.8 M 371.6,432.3 L 394.3,443.3"/>
<path class="t" d="M 417.3,431.8 L 473.3,458.6 M 418.3,434.2 L 470.8,460"/>
<path class="o" d="M 389.8,420.3 L 408.4,428.4 M 388.3,422.8 L 406.4,431.4 M 386.7,424.9 L 402.4,432.4 M 392.8,418.4 L 411.3,426.6 M 387.3,423.8 L 398.7,436.8"/>
<path class="kf" d="M 398.7,436.8 Q 401.7,431.3 411.1,427.2 L 413,428.2 L 413,437.7 L 408.7,440 L 399.2,445.3 Z"/>
<path class="t" d="M 400.1,437.8 Q 403.2,432.8 411.7,428.9"/>
<path class="k" d="M 404.2,441.8 L 404.7,435.3 L 408.3,433.6 L 408.6,438.3 M 410.3,432.6 L 410.5,437.8 M 404.7,438.6 L 408.5,437"/>
<path class="t" d="M 400.3,437.4 L 400.6,444.5"/>
<ellipse class="f" cx="393.8" cy="437.2" rx="2.6" ry="1.5" transform="rotate(0 393.8 437.2)"/>
<path class="kf" d="M 391.2,437.2 L 391.2,440 Q 393.8,442 396.4,440 L 396.4,437.2"/>
<ellipse class="kf" cx="393.8" cy="437.2" rx="2.6" ry="1.5" transform="rotate(0 393.8 437.2)"/>
<ellipse class="o" cx="393.8" cy="437.2" rx="1.2" ry="0.7" transform="rotate(0 393.8 437.2)"/>
<path class="o" d="M 401.3,446.7 L 413.9,440.2 L 429.3,447 M 404.1,447.8 L 414.8,442.4 L 425.8,447.5 M 414.2,452.5 L 427.8,445.8"/>
<path class="t" d="M 413.9,438.5 L 419.3,441"/>
<path class="o" d="M 419.9,435.3 L 438.5,443.4 M 418.4,437.8 L 436.5,446.4 M 416.8,439.9 L 432.5,447.4"/>
<path class="kf" d="M 429.1,452 Q 432.1,446.5 441.5,442.4 L 443.4,443.4 L 443.4,452.9 L 439.1,455.2 L 429.6,460.5 Z"/>
<path class="t" d="M 430.5,453 Q 433.6,448 442.1,444.1"/>
<path class="k" d="M 434.6,457 L 435.1,450.5 L 438.7,448.8 L 439,453.5 M 440.7,447.8 L 440.9,453 M 435.1,453.8 L 438.9,452.2"/>
<path class="t" d="M 430.7,452.6 L 431,459.7"/>
<path class="kf" d="M 441.6,460.3 L 441.6,462.6 Q 444.4,464.6 447.2,462.6 L 447.2,460.3"/>
<ellipse class="kf" cx="444.4" cy="460.3" rx="2.8" ry="1.5" transform="rotate(0 444.4 460.3)"/>
<path class="t" d="M 434.8,459 L 439.8,461.5 M 435.3,463 L 438.3,458.5 M 447.8,453 L 451.3,457.5 M 449.3,452 L 449.8,456.5"/>
<path class="o" d="M 445.9,450.2 L 470.6,462.5 M 446.3,454 L 463.9,463 M 452.5,469.7 L 454.8,470.7 L 465.3,464.5 M 447.3,458 L 452.3,469.5 M 471.5,464 L 471.5,461 M 473.3,458.6 L 473.3,462.8"/>
<path class="t" d="M 427.3,472.5 L 451.3,469.2"/>
<g class="lt">
<path class="kf" d="M 171.2,443.6 L 175.5,440.2 L 177.4,439.8 L 181.2,442.1 L 182.1,445.9 L 183.5,444 L 191.6,447.4 L 195.4,445.9 L 197.8,447.4 L 198.3,449.7 L 199.7,446.4 L 201.1,445.5 L 201.6,443.1 L 217.3,436 L 219.2,437.4 L 219.2,432.6 L 223,433.1 L 227.7,430.3 L 312.4,469.5 L 312.4,471.9 L 303.4,477.6 L 302.5,476.1 L 297.7,475.6 L 295.8,476.6 L 284.4,483.3 L 283.5,488 L 256.9,488 L 254,486.1 L 172.6,447.4 Z"/>
<path class="t" d="M 173.7,445.92 L 259.2,486.58"/>
<path class="k" d="M 175.2,444.44 L 259.2,484.38"/>
<path class="t" d="M 179.2,444.94 L 259.2,482.98"/>
<path class="o" d="M 182.2,444.36 L 261.2,481.93"/>
<path class="t" d="M 198.2,450.17 L 231.2,465.86"/>
<path class="o" d="M 233.2,465.62 L 259.2,477.98"/>
<path class="o" d="M 259.2,479.5 L 259.2,486.1 M 259.2,479.5 L 256.7,484.6 M 256.9,488 Q 271.2,486.6 283.5,488"/>
<path class="o" d="M 232,459.7 L 261.2,474.2"/>
<path class="k" d="M 213.7,457.1 L 215.2,455.6 L 216.8,456.6 L 217.2,459.6 M 245.2,471.6 L 246.7,470.1 L 248.4,471.1 L 248.8,474.1"/>
<path class="o" d="M 203.5,445.9 L 216.3,439.7 L 231.5,446.6 M 205.7,447.6 L 217.7,441.8 L 229.7,447.4 M 203.5,445.9 L 226.2,456.9"/>
<path class="t" d="M 249.2,445.4 L 305.2,472.2 M 250.2,447.8 L 302.7,473.6"/>
<path class="o" d="M 221.7,433.9 L 240.3,442 M 220.2,436.4 L 238.3,445 M 218.6,438.5 L 234.3,446 M 224.7,432 L 243.2,440.2 M 219.2,437.4 L 230.6,450.4"/>
<path class="kf" d="M 230.6,450.4 Q 233.6,444.9 243,440.8 L 244.9,441.8 L 244.9,451.3 L 240.6,453.6 L 231.1,458.9 Z"/>
<path class="t" d="M 232,451.4 Q 235.1,446.4 243.6,442.5"/>
<path class="k" d="M 236.1,455.4 L 236.6,448.9 L 240.2,447.2 L 240.5,451.9 M 242.2,446.2 L 242.4,451.4 M 236.6,452.2 L 240.4,450.6"/>
<path class="t" d="M 232.2,451 L 232.5,458.1"/>
<ellipse class="f" cx="225.7" cy="450.8" rx="2.6" ry="1.5" transform="rotate(0 225.7 450.8)"/>
<path class="kf" d="M 223.1,450.8 L 223.1,453.6 Q 225.7,455.6 228.3,453.6 L 228.3,450.8"/>
<ellipse class="kf" cx="225.7" cy="450.8" rx="2.6" ry="1.5" transform="rotate(0 225.7 450.8)"/>
<ellipse class="o" cx="225.7" cy="450.8" rx="1.2" ry="0.7" transform="rotate(0 225.7 450.8)"/>
<path class="o" d="M 233.2,460.3 L 245.8,453.8 L 261.2,460.6 M 236,461.4 L 246.7,456 L 257.7,461.1 M 246.1,466.1 L 259.7,459.4"/>
<path class="t" d="M 245.8,452.1 L 251.2,454.6"/>
<path class="o" d="M 251.8,448.9 L 270.4,457 M 250.3,451.4 L 268.4,460 M 248.7,453.5 L 264.4,461"/>
<path class="kf" d="M 261,465.6 Q 264,460.1 273.4,456 L 275.3,457 L 275.3,466.5 L 271,468.8 L 261.5,474.1 Z"/>
<path class="t" d="M 262.4,466.6 Q 265.5,461.6 274,457.7"/>
<path class="k" d="M 266.5,470.6 L 267,464.1 L 270.6,462.4 L 270.9,467.1 M 272.6,461.4 L 272.8,466.6 M 267,467.4 L 270.8,465.8"/>
<path class="t" d="M 262.6,466.2 L 262.9,473.3"/>
<path class="kf" d="M 273.5,473.9 L 273.5,476.2 Q 276.3,478.2 279.1,476.2 L 279.1,473.9"/>
<ellipse class="kf" cx="276.3" cy="473.9" rx="2.8" ry="1.5" transform="rotate(0 276.3 473.9)"/>
<path class="t" d="M 266.7,472.6 L 271.7,475.1 M 267.2,476.6 L 270.2,472.1 M 279.7,466.6 L 283.2,471.1 M 281.2,465.6 L 281.7,470.1"/>
<path class="o" d="M 277.8,463.8 L 302.5,476.1 M 278.2,467.6 L 295.8,476.6 M 284.4,483.3 L 286.7,484.3 L 297.2,478.1 M 279.2,471.6 L 284.2,483.1 M 303.4,477.6 L 303.4,474.6 M 305.2,472.2 L 305.2,476.4"/>
<path class="t" d="M 259.2,486.1 L 283.2,482.8"/>
</g>
<!-- p05.py -->
<path class="kf" d="M169.84,307.23 L225.94,333.43 L227.46,330.17 L171.36,303.97 Z"/>
<ellipse class="kf" cx="226.7" cy="331.8" rx="0.9" ry="1.8" transform="rotate(25.03 226.7 331.8)"/>
<ellipse class="kf" cx="170.6" cy="305.6" rx="0.9" ry="1.8" transform="rotate(25.03 170.6 305.6)"/>
<path class="f" style="stroke:none" d="M177.05,315.03 L187.92,320.1 L192.75,309.77 L181.88,304.7 Z"/>
<ellipse class="kf" cx="179.46" cy="309.86" rx="2.06" ry="4.9" transform="rotate(25.03 179.46 309.86)"/>
<ellipse class="f" cx="181.64" cy="310.88" rx="2.39" ry="5.7" transform="rotate(25.03 181.64 310.88)"/>
<ellipse class="f" cx="183.81" cy="311.89" rx="2.39" ry="5.7" transform="rotate(25.03 183.81 311.89)"/>
<ellipse class="f" cx="185.99" cy="312.91" rx="2.39" ry="5.7" transform="rotate(25.03 185.99 312.91)"/>
<ellipse class="f" cx="188.16" cy="313.92" rx="2.39" ry="5.7" transform="rotate(25.03 188.16 313.92)"/>
<ellipse class="kf" cx="190.34" cy="314.94" rx="2.06" ry="4.9" transform="rotate(25.03 190.34 314.94)"/>
<path class="k" d="M177.17,314.77 L188.05,319.85 M181.75,304.95 L192.63,310.03"/>
<path class="f" style="stroke:none" d="M207.65,330.03 L218.52,335.1 L223.35,324.77 L212.48,319.7 Z"/>
<ellipse class="kf" cx="210.06" cy="324.86" rx="2.06" ry="4.9" transform="rotate(25.03 210.06 324.86)"/>
<ellipse class="f" cx="212.24" cy="325.88" rx="2.39" ry="5.7" transform="rotate(25.03 212.24 325.88)"/>
<ellipse class="f" cx="214.41" cy="326.89" rx="2.39" ry="5.7" transform="rotate(25.03 214.41 326.89)"/>
<ellipse class="f" cx="216.59" cy="327.91" rx="2.39" ry="5.7" transform="rotate(25.03 216.59 327.91)"/>
<ellipse class="f" cx="218.76" cy="328.92" rx="2.39" ry="5.7" transform="rotate(25.03 218.76 328.92)"/>
<ellipse class="kf" cx="220.94" cy="329.94" rx="2.06" ry="4.9" transform="rotate(25.03 220.94 329.94)"/>
<path class="k" d="M207.77,329.77 L218.65,334.85 M212.35,319.95 L223.23,325.03"/>
<path class="kf" d="M220.4,330.37 L228,333.97 L229.2,331.43 L221.6,327.83 Z"/>
<ellipse class="kf" cx="228.6" cy="332.7" rx="0.7" ry="1.4" transform="rotate(25.35 228.6 332.7)"/>
<ellipse class="kf" cx="221" cy="329.1" rx="0.7" ry="1.4" transform="rotate(25.35 221 329.1)"/>
<path class="kf" d="M398.13,396.63 L453.13,422.63 L454.67,419.37 L399.67,393.37 Z"/>
<ellipse class="kf" cx="453.9" cy="421" rx="0.9" ry="1.8" transform="rotate(25.3 453.9 421)"/>
<ellipse class="kf" cx="398.9" cy="395" rx="0.9" ry="1.8" transform="rotate(25.3 398.9 395)"/>
<path class="f" style="stroke:none" d="M403.55,405.63 L414.42,410.7 L419.25,400.37 L408.38,395.3 Z"/>
<ellipse class="kf" cx="405.96" cy="400.46" rx="2.06" ry="4.9" transform="rotate(25.03 405.96 400.46)"/>
<ellipse class="f" cx="408.14" cy="401.48" rx="2.39" ry="5.7" transform="rotate(25.03 408.14 401.48)"/>
<ellipse class="f" cx="410.31" cy="402.49" rx="2.39" ry="5.7" transform="rotate(25.03 410.31 402.49)"/>
<ellipse class="f" cx="412.49" cy="403.51" rx="2.39" ry="5.7" transform="rotate(25.03 412.49 403.51)"/>
<ellipse class="f" cx="414.66" cy="404.52" rx="2.39" ry="5.7" transform="rotate(25.03 414.66 404.52)"/>
<ellipse class="kf" cx="416.84" cy="405.54" rx="2.06" ry="4.9" transform="rotate(25.03 416.84 405.54)"/>
<path class="k" d="M403.67,405.37 L414.55,410.45 M408.25,395.55 L419.13,400.63"/>
<path class="f" style="stroke:none" d="M434.85,418.63 L445.72,423.7 L450.55,413.37 L439.68,408.3 Z"/>
<ellipse class="kf" cx="437.26" cy="413.46" rx="2.06" ry="4.9" transform="rotate(25.03 437.26 413.46)"/>
<ellipse class="f" cx="439.44" cy="414.48" rx="2.39" ry="5.7" transform="rotate(25.03 439.44 414.48)"/>
<ellipse class="f" cx="441.61" cy="415.49" rx="2.39" ry="5.7" transform="rotate(25.03 441.61 415.49)"/>
<ellipse class="f" cx="443.79" cy="416.51" rx="2.39" ry="5.7" transform="rotate(25.03 443.79 416.51)"/>
<ellipse class="f" cx="445.96" cy="417.52" rx="2.39" ry="5.7" transform="rotate(25.03 445.96 417.52)"/>
<ellipse class="kf" cx="448.14" cy="418.54" rx="2.06" ry="4.9" transform="rotate(25.03 448.14 418.54)"/>
<path class="k" d="M434.97,418.37 L445.85,423.45 M439.55,408.55 L450.43,413.63"/>
<path class="kf" d="M447.91,419.87 L455.21,423.27 L456.39,420.73 L449.09,417.33 Z"/>
<ellipse class="kf" cx="455.8" cy="422" rx="0.7" ry="1.4" transform="rotate(24.97 455.8 422)"/>
<ellipse class="kf" cx="448.5" cy="418.6" rx="0.7" ry="1.4" transform="rotate(24.97 448.5 418.6)"/>
<path class="kf" d="M229.24,399.13 L284.04,424.63 L285.56,421.37 L230.76,395.87 Z"/>
<ellipse class="kf" cx="284.8" cy="423" rx="0.9" ry="1.8" transform="rotate(24.95 284.8 423)"/>
<ellipse class="kf" cx="230" cy="397.5" rx="0.9" ry="1.8" transform="rotate(24.95 230 397.5)"/>
<path class="f" style="stroke:none" d="M235.17,405.9 L256.01,415.63 L260.83,405.3 L239.99,395.57 Z"/>
<ellipse class="kf" cx="237.58" cy="400.73" rx="2.06" ry="4.9" transform="rotate(25.03 237.58 400.73)"/>
<ellipse class="f" cx="239.66" cy="401.71" rx="2.39" ry="5.7" transform="rotate(25.03 239.66 401.71)"/>
<ellipse class="f" cx="241.75" cy="402.68" rx="2.39" ry="5.7" transform="rotate(25.03 241.75 402.68)"/>
<ellipse class="f" cx="243.83" cy="403.65" rx="2.39" ry="5.7" transform="rotate(25.03 243.83 403.65)"/>
<ellipse class="f" cx="245.92" cy="404.63" rx="2.39" ry="5.7" transform="rotate(25.03 245.92 404.63)"/>
<ellipse class="f" cx="248" cy="405.6" rx="2.39" ry="5.7" transform="rotate(25.03 248 405.6)"/>
<ellipse class="f" cx="250.08" cy="406.57" rx="2.39" ry="5.7" transform="rotate(25.03 250.08 406.57)"/>
<ellipse class="f" cx="252.17" cy="407.55" rx="2.39" ry="5.7" transform="rotate(25.03 252.17 407.55)"/>
<ellipse class="f" cx="254.25" cy="408.52" rx="2.39" ry="5.7" transform="rotate(25.03 254.25 408.52)"/>
<ellipse class="f" cx="256.34" cy="409.49" rx="2.39" ry="5.7" transform="rotate(25.03 256.34 409.49)"/>
<ellipse class="kf" cx="258.42" cy="410.47" rx="2.06" ry="4.9" transform="rotate(25.03 258.42 410.47)"/>
<path class="k" d="M235.29,405.64 L256.13,415.37 M239.87,395.83 L260.71,405.56"/>
<path class="f" style="stroke:none" d="M260.47,418.72 L279.5,427.61 L284.33,417.28 L265.3,408.39 Z"/>
<ellipse class="kf" cx="262.89" cy="413.56" rx="2.06" ry="4.9" transform="rotate(25.03 262.89 413.56)"/>
<ellipse class="f" cx="265" cy="414.54" rx="2.39" ry="5.7" transform="rotate(25.03 265 414.54)"/>
<ellipse class="f" cx="267.11" cy="415.53" rx="2.39" ry="5.7" transform="rotate(25.03 267.11 415.53)"/>
<ellipse class="f" cx="269.23" cy="416.52" rx="2.39" ry="5.7" transform="rotate(25.03 269.23 416.52)"/>
<ellipse class="f" cx="271.34" cy="417.51" rx="2.39" ry="5.7" transform="rotate(25.03 271.34 417.51)"/>
<ellipse class="f" cx="273.46" cy="418.49" rx="2.39" ry="5.7" transform="rotate(25.03 273.46 418.49)"/>
<ellipse class="f" cx="275.57" cy="419.48" rx="2.39" ry="5.7" transform="rotate(25.03 275.57 419.48)"/>
<ellipse class="f" cx="277.69" cy="420.47" rx="2.39" ry="5.7" transform="rotate(25.03 277.69 420.47)"/>
<ellipse class="f" cx="279.8" cy="421.46" rx="2.39" ry="5.7" transform="rotate(25.03 279.8 421.46)"/>
<ellipse class="kf" cx="281.91" cy="422.44" rx="2.06" ry="4.9" transform="rotate(25.03 281.91 422.44)"/>
<path class="k" d="M260.6,418.46 L279.62,427.35 M265.18,408.65 L284.2,417.54"/>
<path class="kf" d="M279.4,422.06 L285.9,425.16 L287.1,422.64 L280.6,419.54 Z"/>
<ellipse class="kf" cx="286.5" cy="423.9" rx="0.7" ry="1.4" transform="rotate(25.5 286.5 423.9)"/>
<ellipse class="kf" cx="280" cy="420.8" rx="0.7" ry="1.4" transform="rotate(25.5 280 420.8)"/>
<path class="k" d="M 138.2,296.5 L 138.2,302"/>
<path class="kf" d="M129.9,301.9 L135.2,299.4 L139.3,300.9 L144.3,301.4 L144.8,308.5 L142.8,311.5 L136.2,314.3 L132.4,313.1 L132.4,311 L130.4,310 Z"/>
<path class="k" d="M129.9,301.9 L132.4,304.5 L144.3,301.4 M132.4,304.5 L132.4,311"/>
<path class="o" d="M135.2,305.2 L135.5,313.8 M133.3,300.4 L134.9,302.6 L136.3,300.2"/>
<circle class="o" cx="139.5" cy="309" r="2"/>
<ellipse class="f" style="stroke-width:1.15" cx="138.2" cy="285.88" rx="3.8" ry="1.42"/>
<ellipse class="f" style="stroke-width:1.15" cx="138.2" cy="288.24" rx="3.8" ry="1.42"/>
<ellipse class="f" style="stroke-width:1.15" cx="138.2" cy="290.6" rx="3.8" ry="1.42"/>
<ellipse class="f" style="stroke-width:1.15" cx="138.2" cy="292.96" rx="3.8" ry="1.42"/>
<ellipse class="f" style="stroke-width:1.15" cx="138.2" cy="295.32" rx="3.8" ry="1.42"/>
<path class="k" d="M 275.4,360.4 L 275.4,367.5"/>
<path class="kf" d="M267.7,367.4 L273,364.9 L277.1,366.4 L282.1,366.9 L282.6,374 L280.6,377 L274,379.8 L270.2,378.6 L270.2,376.5 L268.2,375.5 Z"/>
<path class="k" d="M267.7,367.4 L270.2,370 L282.1,366.9 M270.2,370 L270.2,376.5"/>
<path class="o" d="M273,370.7 L273.3,379.3 M271.1,365.9 L272.7,368.1 L274.1,365.7"/>
<circle class="o" cx="277.3" cy="374.5" r="2"/>
<ellipse class="f" style="stroke-width:1.15" cx="275.4" cy="349.87" rx="3.8" ry="1.4"/>
<ellipse class="f" style="stroke-width:1.15" cx="275.4" cy="352.21" rx="3.8" ry="1.4"/>
<ellipse class="f" style="stroke-width:1.15" cx="275.4" cy="354.55" rx="3.8" ry="1.4"/>
<ellipse class="f" style="stroke-width:1.15" cx="275.4" cy="356.89" rx="3.8" ry="1.4"/>
<ellipse class="f" style="stroke-width:1.15" cx="275.4" cy="359.23" rx="3.8" ry="1.4"/>
<path class="k" d="M 185.5,396.8 L 185.5,401"/>
<path class="kf" d="M175.9,400.9 L181.2,398.4 L185.3,399.9 L190.3,400.4 L190.8,407.5 L188.8,410.5 L182.2,413.3 L178.4,412.1 L178.4,410 L176.4,409 Z"/>
<path class="k" d="M175.9,400.9 L178.4,403.5 L190.3,400.4 M178.4,403.5 L178.4,410"/>
<path class="o" d="M181.2,404.2 L181.5,412.8 M179.3,399.4 L180.9,401.6 L182.3,399.2"/>
<circle class="o" cx="185.5" cy="408" r="2"/>
<ellipse class="f" style="stroke-width:1.15" cx="185.5" cy="385.55" rx="3.8" ry="1.5"/>
<ellipse class="f" style="stroke-width:1.15" cx="185.5" cy="388.05" rx="3.8" ry="1.5"/>
<ellipse class="f" style="stroke-width:1.15" cx="185.5" cy="390.55" rx="3.8" ry="1.5"/>
<ellipse class="f" style="stroke-width:1.15" cx="185.5" cy="393.05" rx="3.8" ry="1.5"/>
<ellipse class="f" style="stroke-width:1.15" cx="185.5" cy="395.55" rx="3.8" ry="1.5"/>
<path class="k" d="M 366,389.3 L 366,394.3"/>
<path class="kf" d="M356.8,394.2 L362.1,391.7 L366.2,393.2 L371.2,393.7 L371.7,400.8 L369.7,403.8 L363.1,406.6 L359.3,405.4 L359.3,403.3 L357.3,402.3 Z"/>
<path class="k" d="M356.8,394.2 L359.3,396.8 L371.2,393.7 M359.3,396.8 L359.3,403.3"/>
<path class="o" d="M362.1,397.5 L362.4,406.1 M360.2,392.7 L361.8,394.9 L363.2,392.5"/>
<circle class="o" cx="366.4" cy="401.3" r="2"/>
<ellipse class="f" style="stroke-width:1.15" cx="366" cy="378.68" rx="3.8" ry="1.42"/>
<ellipse class="f" style="stroke-width:1.15" cx="366" cy="381.04" rx="3.8" ry="1.42"/>
<ellipse class="f" style="stroke-width:1.15" cx="366" cy="383.4" rx="3.8" ry="1.42"/>
<ellipse class="f" style="stroke-width:1.15" cx="366" cy="385.76" rx="3.8" ry="1.42"/>
<ellipse class="f" style="stroke-width:1.15" cx="366" cy="388.12" rx="3.8" ry="1.42"/>
<path class="k" d="M 343,459.4 L 343,469.4"/>
<path class="kf" d="M335.4,469.3 L340.7,466.8 L344.8,468.3 L349.8,468.8 L350.3,475.9 L348.3,478.9 L341.7,481.7 L337.9,480.5 L337.9,478.4 L335.9,477.4 Z"/>
<path class="k" d="M335.4,469.3 L337.9,471.9 L349.8,468.8 M337.9,471.9 L337.9,478.4"/>
<path class="o" d="M340.7,472.6 L341,481.2 M338.8,467.8 L340.4,470 L341.8,467.6"/>
<circle class="o" cx="345" cy="476.4" r="2"/>
<ellipse class="f" style="stroke-width:1.15" cx="343" cy="449.14" rx="3.8" ry="1.37"/>
<ellipse class="f" style="stroke-width:1.15" cx="343" cy="451.42" rx="3.8" ry="1.37"/>
<ellipse class="f" style="stroke-width:1.15" cx="343" cy="453.7" rx="3.8" ry="1.37"/>
<ellipse class="f" style="stroke-width:1.15" cx="343" cy="455.98" rx="3.8" ry="1.37"/>
<ellipse class="f" style="stroke-width:1.15" cx="343" cy="458.26" rx="3.8" ry="1.37"/>
<path class="k" d="M 502.3,442.6 L 502.3,452.5"/>
<path class="kf" d="M495.8,452.4 L501.1,449.9 L505.2,451.4 L510.2,451.9 L510.7,459 L508.7,462 L502.1,464.8 L498.3,463.6 L498.3,461.5 L496.3,460.5 Z"/>
<path class="k" d="M495.8,452.4 L498.3,455 L510.2,451.9 M498.3,455 L498.3,461.5"/>
<path class="o" d="M501.1,455.7 L501.4,464.3 M499.2,450.9 L500.8,453.1 L502.2,450.7"/>
<circle class="o" cx="505.4" cy="459.5" r="2"/>
<ellipse class="f" style="stroke-width:1.15" cx="502.3" cy="432.16" rx="3.8" ry="1.39"/>
<ellipse class="f" style="stroke-width:1.15" cx="502.3" cy="434.48" rx="3.8" ry="1.39"/>
<ellipse class="f" style="stroke-width:1.15" cx="502.3" cy="436.8" rx="3.8" ry="1.39"/>
<ellipse class="f" style="stroke-width:1.15" cx="502.3" cy="439.12" rx="3.8" ry="1.39"/>
<ellipse class="f" style="stroke-width:1.15" cx="502.3" cy="441.44" rx="3.8" ry="1.39"/>
<!-- p06.py -->
<path class="D" d="M 212.6,424.5 L 133.6,424.5 L 133.6,472.2 L 156.2,482.3 L 198.6,463.3 L 276.5,501.4 L 316.5,481 L 316.5,463.3 L 222.5,418.2 L 218.9,420.6 L 212.6,424.5"/>
<path class="k" d="M 139.98,432.49 Q 138.31,444.97 147.47,453.29 M 145.8,433.65 Q 142.47,441.64 149.63,450.3 M 139.98,432.49 L 145.8,433.65"/>
<path class="kf" d="M 146.64,452.46 L 153.29,449.13 L 163.28,453.29 L 164.95,455.79 L 164.12,460.79 L 158.29,461.62 L 155.79,468.28 L 150.8,466.61 L 144.97,462.45 Z"/>
<path class="k" d="M 149.97,451.63 L 148.3,464.61 M 153.29,452.8 L 151.96,466.28 M 146.64,452.46 L 149.97,451.63 L 153.29,452.8 L 157.46,454.13 L 155.79,468.28 M 157.46,454.13 L 163.62,453.29 M 161.62,457.96 L 163.62,458.29 L 163.28,460.29 L 161.29,459.95 Z"/>
<path class="k" d="M 164.95,455.29 L 169.28,456.62 M 164.12,459.95 L 168.28,461.62"/>
<path class="kf" d="M 152.46,467.44 L 155.46,475.93 L 157.46,475.1 L 154.46,466.95 Z"/>
<path class="t" d="M 123.12,439.95 L 132.47,443.07"/>
<path class="t" d="M 152.67,438.08 L 152.67,448.93"/>
<path class="t" d="M 167.38,453.42 L 189.83,456.16"/>
<path class="kf" d="M 136.21,490.55 L 156.78,499.9 L 156.78,506.13 L 136.21,496.78 Z"/>
<path class="o" d="M 144.94,493.92 L 149.93,490.8 L 156.16,490.55 L 157.41,493.04 L 160.52,494.29 L 159.9,497.03 L 156.78,498.9 M 149.93,490.8 L 152.67,494.29 L 157.41,493.04 M 152.67,494.29 L 152.17,497.66"/>
<path class="t" d="M 124.36,497.41 L 135.59,496.16"/>
<path class="t" d="M 146.81,502.39 L 146.81,514.86 L 224.99,474.96"/>
<path class="t" d="M 157.41,492.42 L 172.99,485.56 L 178.6,488.68"/>
<ellipse class="k" cx="182.97" cy="490.17" rx="2.49" ry="2.49" transform="rotate(0 182.97 490.17)"/>
<ellipse class="o" cx="182.34" cy="490.17" rx="1.37" ry="1.37" transform="rotate(0 182.34 490.17)"/>
<path class="k" d="M 168,493.92 L 169.88,492.42 L 178.6,491.17 M 184.84,488.05 L 183.59,480.57 L 187.33,481.45"/>
<path class="t" d="M 196.68,479.33 L 186.08,488.68"/>
<path class="t" d="M 187.33,493.04 L 202.29,499.9"/>
<path class="kf" d="M 199.35,495.55 L 208.7,487.44 L 212.44,489.31 L 213.69,501.16 L 218.05,496.17 L 221.8,494.3 L 226.16,496.8 L 227.41,502.41 L 225.54,508.64 L 221.8,506.15 L 219.3,508.02 L 214.94,509.89 L 211.2,508.64 L 209.33,504.9 L 205.59,503.65 L 204.96,501.16 L 208.08,499.91 L 207.46,496.8 L 201.85,498.04 Z"/>
<path class="o" d="M 201.85,495.55 L 208.7,489.69 L 210.57,490.56 L 211.45,502.41 L 214.31,506.15 L 218.68,505.52 L 219.93,502.41 L 223.67,501.16 L 223.04,497.67 M 214.94,506.77 L 216.81,508.02 M 218.68,498.67 L 222.42,499.29"/>
<path class="t" d="M 233.64,496.17 L 227.66,499.91"/>
<!-- p07.py -->
<path class="t" d="M 639.99,393.73 L 554.95,413.05 Q 550.59,414.3 549.71,419.29 L 547.47,427.39 M 639.99,398.72 L 558.07,416.17 Q 554.7,417.17 553.95,421.16 L 553.7,426.15"/>
<path class="t" d="M 544.35,427.39 L 553.7,426.15 L 553.7,433.63 L 549.96,434.25 L 544.35,433 Z M 547.47,427.14 L 547.47,433.63 M 550.59,422.41 L 553.7,421.78 M 550.59,422.41 L 549.96,426.77"/>
<path class="t" d="M 558.69,418.67 L 568.04,417.17 L 567.42,424.9 L 560.56,426.77 Z M 560.56,420.54 L 566.17,419.66 L 565.55,424.65 L 561.81,425.65 Z"/>
<path class="t" d="M 544.98,433 L 540.24,461.06 M 553.7,433.63 L 548.97,464.8 M 556.82,427.39 L 557.69,439.86 M 548.97,434.25 L 543.73,467.29"/>
<ellipse class="t" cx="589.24" cy="417.67" rx="1.37" ry="1.37" transform="rotate(0 589.24 417.67)"/>
<ellipse class="t" cx="596.35" cy="418.92" rx="1.12" ry="1.12" transform="rotate(0 596.35 418.92)"/>
<ellipse class="t" cx="605.45" cy="417.67" rx="1.37" ry="1.37" transform="rotate(0 605.45 417.67)"/>
<ellipse class="t" cx="596.72" cy="424.28" rx="1.37" ry="1.37" transform="rotate(0 596.72 424.28)"/>
<ellipse class="t" cx="566.8" cy="442.98" rx="1.25" ry="1.25" transform="rotate(0 566.8 442.98)"/>
<ellipse class="t" cx="554.95" cy="439.24" rx="1.5" ry="1.5" transform="rotate(0 554.95 439.24)"/>
<ellipse class="t" cx="611.06" cy="425.52" rx="1.5" ry="1" transform="rotate(20 611.06 425.52)"/>
<ellipse class="t" cx="580.51" cy="448.59" rx="1.75" ry="1.25" transform="rotate(20 580.51 448.59)"/>
<ellipse class="t" cx="557.19" cy="444.6" rx="3.24" ry="2.49" transform="rotate(-20 557.19 444.6)"/>
<path class="t" d="M 587.37,439.24 L 590.49,437.37 L 594.6,439.86 L 594.23,442.36 L 591.11,443.6 L 587.62,441.11 Z M 590.49,437.37 L 590.86,440.49 L 594.23,442.36 M 590.86,440.49 L 587.62,441.11"/>
<path class="t" d="M 594.85,385 L 594.85,389.36 L 608.57,396.85 L 608.57,419.91"/>
<path class="t" d="M 594.85,415.55 L 596.1,408.07 L 602.33,407.19 M 594.85,415.55 L 604.83,414.3"/>
<path class="t" d="M 597.34,424.9 L 602.96,426.15 L 619.79,414.3 L 639.99,426.77"/>
<path class="t" d="M 612.31,427.39 L 620.41,431.13 L 614.8,434.25 Q 612.06,433 612.93,430.14"/>
<path class="t" d="M 620.04,431.38 L 589.86,452.96 M 622.91,433 L 593.6,453.83"/>
<path class="t" d="M 553.7,437.99 L 566.17,442.36 M 568.04,443.35 L 578.64,447.97 M 582.38,449.59 L 604.83,459.81 M 556.82,447.34 L 576.15,456.7 L 589.86,452.96"/>
<path class="t" d="M 621.03,403.7 Q 631.01,401.83 639.99,413.43 M 621.03,409.94 Q 628.52,408.69 637.24,416.8 M 621.03,403.7 L 621.03,409.94 M 622.28,405.57 Q 631.01,404.95 638.49,414.93"/>
<path class="t" d="M 627.27,406.82 L 633.5,409.94 M 628.52,405.95 L 634.75,409.31 M 630.01,405.32 L 636,408.94 M 631.63,404.95 L 637,408.69 M 633.5,404.95 L 637.87,408.94"/>
<path class="t" d="M 626.02,438.87 Q 626.65,434.25 633.75,431.88 L 636.62,433.13 L 636.62,445.1 L 633.5,448.84 L 627.52,447.97 M 627.89,439.86 Q 628.77,436.12 633.5,434.38 L 634.75,434.88 L 634.75,444.6 M 633.5,434.38 L 633.5,448.84"/>
<ellipse class="t" cx="630.76" cy="440.86" rx="1.75" ry="1.75" transform="rotate(0 630.76 440.86)"/>
<path class="t" d="M 614.8,443.6 L 626.02,438.62 M 616.67,449.84 L 627.52,447.97 M 614.8,443.6 L 616.67,449.84 M 617.54,444.6 L 618.54,449.21 M 620.41,443.35 L 621.28,448.84 M 623.28,442.11 L 624.15,448.34"/>
<path class="t" d="M 602.33,452.96 Q 609.81,452.33 614.8,447.34 M 604.83,454.83 Q 611.06,454.2 616.05,449.21 M 601.71,453.33 L 604.83,456.07 L 609.81,454.83"/>
<path class="t" d="M 539.99,460.57 L 543.1,466.81 L 547.47,467.43 L 548.09,463.07 M 549.96,458.7 L 556.82,465.56 L 581.13,462.44 M 553.7,453.72 L 558.07,460.57 L 554.95,461.82 M 563.68,458.7 L 568.67,461.2 L 564.93,460.57"/>
<path class="o" d="M 553.7,454.96 L 561.81,452.47 L 563.05,456.83 L 556.2,458.7 Z M 555.57,455.59 L 560.56,454.34 M 557.44,456.21 L 556.82,458.08 M 559.94,455.21 L 559.69,457.46"/>
<ellipse class="t" cx="556.2" cy="446.86" rx="2.99" ry="2.24" transform="rotate(-20 556.2 446.86)"/>
<path class="kf" d="M610.9,462.7 L603.67,459.12 L602.24,462.02 L609.47,465.59 Z"/>
<path class="o" style="stroke-width:0.55" d="M609.09,461.8 L607.21,464.48 M607.28,460.91 L605.4,463.59 M605.48,460.02 L603.6,462.69 "/>
<ellipse class="kf" cx="610.99" cy="464.54" rx="2.24" ry="4.85" transform="rotate(-153.7 610.99 464.54)"/>
<ellipse class="kf" cx="613.8" cy="465.94" rx="3.82" ry="4.49" transform="rotate(-153.7 613.8 465.94)"/>
<ellipse class="o" cx="614.29" cy="466.17" rx="2.24" ry="2.78" transform="rotate(-153.7 614.29 466.17)"/>
<path class="t" d="M612.94,466.17 L615.63,466.17 M614.29,464.6 L614.29,467.74"/>
<path class="t" d="M 594.23,484.64 L 603.33,463.69"/>
<path class="t" d="M 557.44,449.35 L 617.29,477.41"/>
<path class="kf" d="M 618.74,478.03 L 624.35,454.34 L 663,447.23 L 666.37,448.73 L 664.88,453.72 L 662.38,462.44 L 669.86,466.81 L 673.6,468.05 L 672.98,473.04 L 667.37,476.16 L 664.88,477.41 L 648.67,481.77 L 640.56,477.41 L 619.99,481.77 Z"/>
<path class="o" d="M 624.35,454.34 L 626.85,455.96 L 664.88,448.98 M 626.85,455.96 L 620.99,479.65 M 618.74,478.03 L 620.99,479.65 M 663,447.23 L 661.38,461.82"/>
<path class="t" d="M 626.85,456.83 L 634.7,460.95 L 629.71,483.02"/>
<ellipse class="o" cx="620.61" cy="478.65" rx="0.75" ry="0.75" transform="rotate(0 620.61 478.65)"/>
<ellipse class="o" cx="663.38" cy="451.85" rx="0.62" ry="0.87" transform="rotate(0 663.38 451.85)"/>
<ellipse class="k" cx="658.02" cy="454.96" rx="2.74" ry="1.12" transform="rotate(25 658.02 454.96)"/>
<ellipse class="k" cx="657.39" cy="459.95" rx="2.74" ry="1.12" transform="rotate(25 657.39 459.95)"/>
<path class="kf" d="M 640.56,477.41 L 643.05,466.81 L 647.67,464.94 L 664.88,464.94 L 668.37,468.05 L 666.75,475.54 L 656.15,479.28 L 648.67,481.77 Z"/>
<path class="o" d="M 643.05,466.81 L 652.41,469.3 L 668.37,468.05 M 652.41,469.3 L 648.92,481.4 M 643.93,469.93 L 650.54,471.8 L 648.67,478.65 L 642.18,476.16 Z M 644.93,471.17 L 649.29,472.67 M 656.15,469.3 L 655.15,472.67 L 666.12,471.17 M 647.67,464.94 L 652.41,469.3"/>
<ellipse class="o" cx="657.39" cy="476.16" rx="1" ry="1" transform="rotate(0 657.39 476.16)"/>
<path class="kf" d="M 668.37,466.43 L 672.61,465.94 L 673.85,468.43 L 673.6,472.67 L 668.62,473.67"/>
<path class="o" d="M 669.86,466.81 L 670.49,473.04 M 671.73,466.43 L 672.11,472.67"/>
<path class="kf" d="M647.33,491.58 L639.38,488.07 L638,491.19 L645.95,494.7 Z"/>
<path class="o" style="stroke-width:0.55" d="M645.34,490.7 L643.5,493.62 M643.35,489.82 L641.52,492.74 M641.37,488.94 L639.53,491.86 "/>
<ellipse class="kf" cx="647.5" cy="493.52" rx="2.37" ry="5.12" transform="rotate(-156.15 647.5 493.52)"/>
<ellipse class="kf" cx="650.54" cy="494.86" rx="4.03" ry="4.74" transform="rotate(-156.15 650.54 494.86)"/>
<ellipse class="o" cx="651.06" cy="495.09" rx="2.37" ry="2.94" transform="rotate(-156.15 651.06 495.09)"/>
<path class="t" d="M649.63,495.09 L652.48,495.09 M651.06,493.43 L651.06,496.75"/>
<path class="t" d="M 633.7,503.59 L 643.93,496.73"/>
<path class="kf" d="M677.05,483.34 L669.57,480.12 L668.16,483.42 L675.63,486.63 Z"/>
<path class="o" style="stroke-width:0.55" d="M675.18,482.53 L673.3,485.63 M673.31,481.73 L671.43,484.83 M671.44,480.92 L669.56,484.03 "/>
<ellipse class="kf" cx="677.25" cy="485.38" rx="2.49" ry="5.39" transform="rotate(-156.73 677.25 485.38)"/>
<ellipse class="kf" cx="680.46" cy="486.76" rx="4.24" ry="4.99" transform="rotate(-156.73 680.46 486.76)"/>
<ellipse class="o" cx="681.01" cy="486.99" rx="2.49" ry="3.09" transform="rotate(-156.73 681.01 486.99)"/>
<path class="t" d="M679.51,486.99 L682.51,486.99 M681.01,485.25 L681.01,488.74"/>
<path class="t" d="M 668.37,499.6 L 670.74,484.89"/>
<path class="t" d="M 628.72,482.39 L 638.69,489.25 M 664.88,478.03 L 668.87,481.4"/>
<path class="kf" d="M 697.29,473.92 L 701.03,472.17 L 707.89,475.54 L 707.27,478.03 L 703.78,479.65 L 697.29,476.41 Z M 701.03,472.17 L 701.03,474.66 L 707.27,478.03 M 701.03,474.66 L 697.29,476.41"/>
<path class="kf" d="M 696.05,481.15 L 698.79,479.28 L 707.89,483.64 L 707.89,486.76 L 704.78,488.63 L 696.05,484.26 Z M 698.79,479.28 L 698.79,482.14 L 707.89,486.76 M 698.79,482.14 L 696.05,484.26"/>
<path class="k" d="M 707.89,476.16 L 718.49,481.77 M 707.89,477.78 L 718.49,483.64 M 707.89,483.89 L 718.49,489.25 M 707.89,486.38 L 717.87,491.75 M 718.49,481.77 L 717.87,491.75"/>
<path class="t" d="M 710.39,468.05 L 707.52,474.91"/>
<path class="t" d="M 712.51,492.99 L 711.63,499.23"/>
<path class="t" d="M 663,458.08 L 697.29,474.29"/>
<path class="t" d="M 686.7,439.38 L 679.84,471.17 L 674.6,471.8"/>
<path class="kf" d="M643.83,424.87 L635.01,420.73 L633.64,423.66 L642.45,427.8 Z"/>
<path class="o" style="stroke-width:0.55" d="M641.62,423.84 L639.8,426.55 M639.42,422.8 L637.59,425.52 M637.22,421.77 L635.39,424.48 "/>
<ellipse class="kf" cx="643.95" cy="426.72" rx="2.24" ry="4.85" transform="rotate(-154.83 643.95 426.72)"/>
<ellipse class="kf" cx="646.8" cy="428.05" rx="3.82" ry="4.49" transform="rotate(-154.83 646.8 428.05)"/>
<ellipse class="o" cx="647.28" cy="428.28" rx="2.24" ry="2.78" transform="rotate(-154.83 647.28 428.28)"/>
<path class="t" d="M645.94,428.28 L648.63,428.28 M647.28,426.71 L647.28,429.86"/>
<path class="t" d="M 650.91,415.21 L 646.17,422.44"/>
<path class="t" d="M 620.61,413.97 L 633.7,421.82"/>
<path class="b" d="M 638.69,439.65 L 641.81,436.78 L 644.3,437.41 L 643.93,440.52 L 645.55,443.02 L 643.05,447.38 L 640.56,446.38 L 641.43,443.02 Z"/>
<path class="b" d="M 647.67,442.64 L 650.54,441.77 L 652.16,443.89 L 651.41,446.38 L 648.42,447.13 L 647.17,444.89 Z"/>
<path class="t" d="M 666.75,422.69 L 651.41,442.39"/>
<!-- p08.py -->
<path class="kf" d="M 690.07,437.05 L 693.33,434.54 L 700.09,435.54 L 701.09,439.55 L 697.58,442.05 L 691.57,441.55 Z M 693.33,434.54 L 693.83,438.55 L 697.58,442.05 M 693.83,438.55 L 690.07,437.05"/>
<path class="t" d="M 692.83,431.54 L 694.58,435.04"/>
<path class="t" d="M 690.07,438.8 L 686.57,439.55 L 679.56,470.59 L 675.05,471.34"/>
<path class="k" d="M 701.09,437.55 L 706.09,436.55 M 701.34,439.3 L 706.34,438.3 M 723.11,435.04 L 726.12,434.04 M 723.11,436.8 L 726.12,435.79 M 743.14,432.04 L 747.14,431.04 L 747.14,433.54 L 743.14,434.29"/>
<path class="kf" d="M 705.09,433.79 L 708.1,430.04 L 712.6,428.29 L 717.61,428.79 L 722.61,431.29 L 723.36,437.55 L 720.11,441.3 L 710.6,442.05 L 705.84,438.8 Z"/>
<path class="k" d="M 705.09,433.79 L 710.1,435.29 L 722.61,431.79 M 710.1,435.29 L 710.6,442.05"/>
<path class="o" d="M 708.1,430.79 L 712.6,429.79 L 717.11,430.04"/>
<path class="kf" d="M 725.62,431.04 L 728.62,427.28 L 733.13,425.53 L 738.13,426.03 L 743.14,428.54 L 743.89,434.79 L 740.64,438.55 L 731.12,439.3 L 726.37,436.05 Z"/>
<path class="k" d="M 725.62,431.04 L 730.62,432.54 L 743.14,429.04 M 730.62,432.54 L 731.12,439.3"/>
<path class="o" d="M 728.62,428.04 L 733.13,427.03 L 737.63,427.28"/>
<path class="kf" d="M 614.93,329.96 L 622.41,321.86 L 628.64,324.98 L 628.02,327.47 L 626.15,326.85 L 625.52,333.7 L 628.02,338.07 L 621.78,339.31 L 620.54,341.81 L 616.17,343.05 L 614.3,340.56 Z"/>
<path class="k" d="M 617.67,330.59 L 623.03,324.73 L 626.15,326.85 M 617.67,330.59 L 617.17,338.07 L 622.41,336.82 L 625.52,333.7 M 622.41,329.96 L 622.41,336.82 M 614.3,340.56 L 617.17,338.07 M 617.67,339.94 L 619.66,341.43"/>
<path class="t" d="M 585,351.78 L 613.05,338.07"/>
<path class="t" d="M 631.13,328.09 L 660.44,315"/>
<path class="t" d="M 628.02,338.07 L 639.24,334.33"/>
<path class="t" d="M 619.29,343.68 L 619.29,364.25 M 619.29,351.16 L 629.26,348.67 L 628.02,364.25"/>
<path class="kf" d="M 598.09,359.89 L 599.96,358.02 L 601.83,359.26 L 616.17,356.15 L 617.67,354.28 L 619.29,355.52 L 643.6,368.62 L 643.6,373.6 L 622.41,378.59 L 620.54,377.97 L 599.96,368.62 L 598.09,364.88 Z"/>
<path class="o" d="M 619.29,355.52 L 617.67,357.39 L 601.83,360.89 L 599.96,368.62 M 601.83,359.26 L 601.83,360.89 M 621.78,372.36 Q 622.41,371.11 624.9,370.86 L 641.73,368.87 M 622.41,378.59 L 621.78,372.36 M 624.9,373.6 L 641.73,370.86 L 643.6,371.73 M 624.9,373.6 L 624.65,377.34"/>
<path class="d" d="M 601.21,362.38 L 621.16,370.49"/>
<ellipse class="o" cx="613.43" cy="367.99" rx="1.12" ry="1.12" transform="rotate(0 613.43 367.99)"/>
<ellipse class="t" cx="618.04" cy="365.5" rx="1.12" ry="0.62" transform="rotate(0 618.04 365.5)"/>
<ellipse class="t" cx="627.39" cy="364.63" rx="1.12" ry="0.62" transform="rotate(0 627.39 364.63)"/>
<path class="t" d="M 656.7,346.17 L 638.62,364.88"/>
<path class="t" d="M 670.41,353.03 L 656.07,374.85"/>
<path class="t" d="M 687.24,362.38 L 671.03,388.57"/>
<path class="t" d="M 594.85,359.26 L 594.85,385.07"/>
<path style="fill:#8a8a8a;stroke:#111;stroke-width:1" fill-rule="evenodd" d="M638,380.5 L660,373.7 L665,376.2 L664.5,384.5 L642.5,389.5 L638,387 Z M642,381.8 L659.5,377 L661.3,378 L661.3,383 L643.8,387 L642,386 Z"/>
<path class="f" d="M 642,381.8 L 659.5,377 L 661.3,378 L 661.3,383 L 643.8,387 L 642,386 Z"/>
<path class="o" d="M 643.8,383.5 L 661,379.5"/>
<path class="kf" d="M664.55,391.4 L658.33,387.99 L656.67,391.01 L662.88,394.43 Z"/>
<path class="o" style="stroke-width:0.55" d="M662.48,390.26 L660.37,393.05 M660.4,389.13 L658.3,391.91 "/>
<ellipse class="kf" cx="664.56" cy="393.38" rx="2.4" ry="5.18" transform="rotate(-151.19 664.56 393.38)"/>
<ellipse class="kf" cx="667.5" cy="395" rx="4.08" ry="4.8" transform="rotate(-151.19 667.5 395)"/>
<ellipse class="o" cx="668" cy="395.28" rx="2.4" ry="2.98" transform="rotate(-151.19 668 395.28)"/>
<path class="t" d="M666.56,395.28 L669.44,395.28 M668,393.6 L668,396.96"/>
<!-- p09.py -->
<path class="t" d="M 613,338 L 482.7,400 L 543.8,429.3"/>
<path class="t" d="M 631,328 L 713.8,290.3 L 680,272.8"/>
<path class="t" d="M 538.7,328.6 L 476,360.5"/>
<path d="M164.6,302.9 L164.6,315.4 L188.9,326.6 L188.9,349.2" style="stroke:#9a9a9a;stroke-width:0.9;fill:none"/>
<path class="t" d="M 167.6,296.6 L 172.6,304.1"/>
<path class="o" d="M 216.4,339.2 L 216.4,367.5"/>
<path class="t" d="M 216.4,339.2 L 264,361.7 L 264,291.6"/>
<path class="t" d="M 146.3,311.6 L 146.3,327.9 L 153.8,330.4"/>
<path class="t" d="M 110,324.6 L 117,334.6"/>
<path class="t" d="M 122.4,285.1 L 134.2,287.4"/>
<path class="t" d="M 120,301.2 L 128.8,305.2"/>
<path class="t" d="M 280.2,355.4 L 287.2,357.2"/>
<path class="t" d="M 282.2,371.8 L 288.2,369.3"/>
<path class="t" d="M 230.2,368 L 270.7,386 L 270.7,379.3"/>
<path class="kf" d="M 225.5,300 L 229,297 L 233.5,296.5 L 238,299.5 L 238.5,303.5 L 235,306.5 L 230,307 L 226,304.5 Z"/>
<path class="o" d="M 228,300.5 L 234,298.5 M 229,303.5 L 236.5,301 M 231,297.5 L 233,306 M 227,302 L 237,299.8"/>
<path class="t" d="M 218.9,301.6 L 224.4,300.9"/>
<path class="t" d="M 238.5,300 L 247,295.5"/>
<path class="k" d="M 244.7,291.6 L 244.7,314"/>
<path class="f" d="M243.2,320 L243.2,312.5 L246.2,312.5 L246.2,320 Z"/>
<path class="t" d="M243.2,317.8 L246.2,317.3 M243.2,316.2 L246.2,315.7 M243.2,314.6 L246.2,314.1 "/>
<ellipse class="kf" cx="244.7" cy="322" rx="5.9" ry="3"/>
<path class="kf" d="M240.8,322.3 L241.1,326.3 Q244.7,328.9 248.3,326.3 L248.6,322.3 Q244.7,319.8 240.8,322.3 Z"/>
<ellipse class="o" cx="244.7" cy="326.6" rx="2.3" ry="1.1"/>
<path class="t" d="M243.1,325.4 L243,321.1 M246.3,325.4 L246.4,321.1"/>
<path class="t" d="M 245.6,328 L 246.2,331.5"/>
<path class="t" d="M 196.4,253 L 196.4,242.8 L 217.6,252.8 L 217.6,285.3 L 231.4,290.3 L 231.4,284"/>
<ellipse class="kf" cx="196.4" cy="258" rx="4" ry="3"/><ellipse class="o" cx="196.4" cy="258" rx="1.8" ry="1.2"/>
<path class="o" d="M 200,256.5 Q 206,253 212.5,254 M 200.3,259 Q 206,255.5 212.5,256.5"/>
<path class="k" d="M 196.4,261.5 L 196.4,268"/>
<path class="f" d="M195.1,274.8 L195.1,267.3 L198.1,267.3 L198.1,274.8 Z"/>
<path class="t" d="M195.1,272.6 L198.1,272.1 M195.1,271 L198.1,270.5 M195.1,269.4 L198.1,268.9 "/>
<ellipse class="kf" cx="196.6" cy="276.8" rx="5.9" ry="3"/>
<path class="kf" d="M192.7,277.1 L193,281.1 Q196.6,283.7 200.2,281.1 L200.5,277.1 Q196.6,274.6 192.7,277.1 Z"/>
<ellipse class="o" cx="196.6" cy="281.4" rx="2.3" ry="1.1"/>
<path class="t" d="M195,280.2 L194.9,275.9 M198.2,280.2 L198.3,275.9"/>
<path class="t" d="M 181.4,256.5 L 192.3,258.5"/>
<path class="t" d="M 184.6,276 L 191,278.5"/>
<path d="M392.6,393 L392.6,405.5 L416.4,418 L416.4,440.6" style="stroke:#9a9a9a;stroke-width:0.9;fill:none"/>
<path class="t" d="M 392.6,393 L 399.6,396"/>
<path d="M444.4,421.8 L444.4,459.4" style="stroke:#9a9a9a;stroke-width:0.9;fill:none"/>
<path class="k" d="M 444.5,394 L 444.5,409"/>
<path class="t" d="M 453.9,421 L 459,420.6"/>
<path class="t" d="M 474,434.3 L 465.2,448"/>
<path class="t" d="M 470.2,466.9 L 498.2,480.6 L 498.2,465.6"/>
<path class="t" d="M 372.6,403 L 375.6,404.3 L 375.6,421.8 L 381.3,424.3"/>
<path class="t" d="M 356.3,380 L 362,381"/>
<path class="t" d="M 354.6,396 L 357.6,397.5"/>
<path class="t" d="M 347.5,459.4 L 357.1,463.6"/>
<path class="t" d="M 350,476.9 L 357.6,477.6"/>
<path class="t" d="M 343.3,481.9 L 343.3,500 L 310,485.6"/>
<path class="t" d="M 507.7,439.3 L 515.3,441.8"/>
<path class="t" d="M 510.2,458 L 520,459.3"/>
<path class="t" d="M 276.5,410.6 L 276.5,393 L 328.8,419.3"/>
<path class="f" d="M471.97,395.6 L471.97,388.48 L474.82,388.48 L474.82,395.6 Z"/>
<path class="t" d="M471.97,393.51 L474.82,393.04 M471.97,391.99 L474.82,391.51 M471.97,390.47 L474.82,390 "/>
<ellipse class="kf" cx="473.4" cy="397.5" rx="5.61" ry="2.85"/>
<path class="kf" d="M469.69,397.79 L469.98,401.58 Q473.4,404.06 476.82,401.58 L477.1,397.79 Q473.4,395.41 469.69,397.79 Z"/>
<ellipse class="o" cx="473.4" cy="401.87" rx="2.18" ry="1.04"/>
<path class="t" d="M471.88,400.73 L471.78,396.64 M474.92,400.73 L475.01,396.64"/>
<path class="t" d="M 478.2,401.8 L 482.2,409.3"/>
<path d="M223.9,394.3 L223.9,405.5 L250.2,419.3 L250.2,455.6" style="stroke:#9a9a9a;stroke-width:0.9;fill:none"/>
<path class="t" d="M 223.9,394.3 L 230.2,397.5"/>
<path class="k" d="M 276.5,428 L 276.5,473"/>
<path class="t" d="M 286.5,425 L 295.2,428.5"/>
<path class="t" d="M 192.6,410.5 L 192.6,428 L 210.1,435.5"/>
<path class="t" d="M 169.6,386.8 L 181.4,390"/>
<path class="t" d="M 165.6,403.5 L 174.6,406.8"/>
<path class="t" d="M 123.8,440.6 L 132,442.6"/>
<path class="t" d="M 617.3,483 L 610.4,493.6"/>
</svg>
</body></html>
